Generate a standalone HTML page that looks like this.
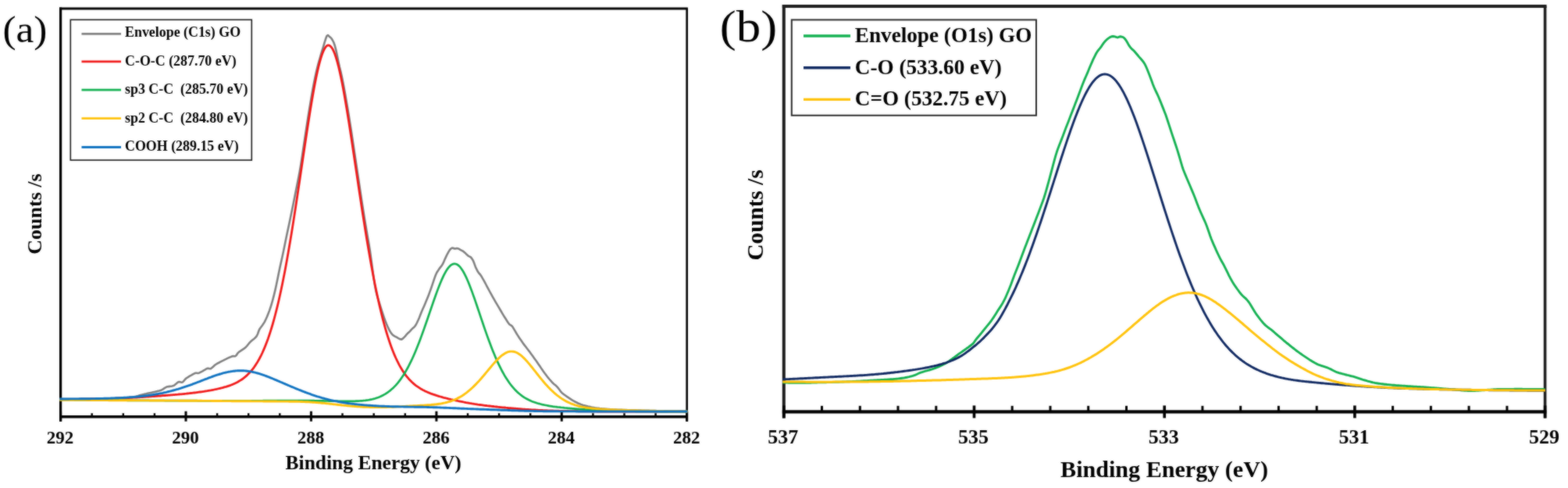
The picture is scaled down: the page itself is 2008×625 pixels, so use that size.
<!DOCTYPE html>
<html lang="en"><head><meta charset="utf-8"><title>XPS spectra of GO: C1s and O1s</title>
<style>
html,body{margin:0;padding:0;background:#fff;}
body{width:2008px;height:625px;overflow:hidden;}
svg{display:block;}
text{font-family:"Liberation Serif","DejaVu Serif",serif;fill:#000;}
.b{font-weight:bold;}
.c{fill:none;stroke-linejoin:round;stroke-linecap:butt;}
</style></head><body>
<svg width="2008" height="625" viewBox="0 0 2008 625">
<defs><filter id="soft" x="0" y="0" width="2008" height="625" filterUnits="userSpaceOnUse" color-interpolation-filters="sRGB"><feGaussianBlur in="SourceGraphic" stdDeviation="0.8" result="b"/><feComposite in="SourceGraphic" in2="b" operator="arithmetic" k1="0" k2="0.5" k3="0.5" k4="0"/></filter></defs>
<g filter="url(#soft)">
<rect x="0" y="0" width="2008" height="625" fill="#fff"/>
<g id="panel-a">
<line x1="77.6" y1="9.5" x2="77.6" y2="539.7" stroke="#000" stroke-width="3.2"/>
<line x1="76.0" y1="11.0" x2="880.9000000000001" y2="11.0" stroke="#000" stroke-width="3"/>
<line x1="879.7" y1="11.0" x2="879.7" y2="539.7" stroke="#000" stroke-width="2.6"/>
<line x1="76.0" y1="533.7" x2="881.0" y2="533.7" stroke="#000" stroke-width="3.6"/>
<line x1="77.6" y1="526.7" x2="77.6" y2="539.7" stroke="#000" stroke-width="3"/>
<line x1="117.7" y1="529.2" x2="117.7" y2="533.7" stroke="#000" stroke-width="2.4"/>
<line x1="157.8" y1="529.2" x2="157.8" y2="533.7" stroke="#000" stroke-width="2.4"/>
<line x1="197.9" y1="529.2" x2="197.9" y2="533.7" stroke="#000" stroke-width="2.4"/>
<line x1="238.0" y1="526.7" x2="238.0" y2="539.7" stroke="#000" stroke-width="3"/>
<line x1="278.1" y1="529.2" x2="278.1" y2="533.7" stroke="#000" stroke-width="2.4"/>
<line x1="318.2" y1="529.2" x2="318.2" y2="533.7" stroke="#000" stroke-width="2.4"/>
<line x1="358.3" y1="529.2" x2="358.3" y2="533.7" stroke="#000" stroke-width="2.4"/>
<line x1="398.4" y1="526.7" x2="398.4" y2="539.7" stroke="#000" stroke-width="3"/>
<line x1="438.5" y1="529.2" x2="438.5" y2="533.7" stroke="#000" stroke-width="2.4"/>
<line x1="478.7" y1="529.2" x2="478.7" y2="533.7" stroke="#000" stroke-width="2.4"/>
<line x1="518.8" y1="529.2" x2="518.8" y2="533.7" stroke="#000" stroke-width="2.4"/>
<line x1="558.9" y1="526.7" x2="558.9" y2="539.7" stroke="#000" stroke-width="3"/>
<line x1="599.0" y1="529.2" x2="599.0" y2="533.7" stroke="#000" stroke-width="2.4"/>
<line x1="639.1" y1="529.2" x2="639.1" y2="533.7" stroke="#000" stroke-width="2.4"/>
<line x1="679.2" y1="529.2" x2="679.2" y2="533.7" stroke="#000" stroke-width="2.4"/>
<line x1="719.3" y1="526.7" x2="719.3" y2="539.7" stroke="#000" stroke-width="3"/>
<line x1="759.4" y1="529.2" x2="759.4" y2="533.7" stroke="#000" stroke-width="2.4"/>
<line x1="799.5" y1="529.2" x2="799.5" y2="533.7" stroke="#000" stroke-width="2.4"/>
<line x1="839.6" y1="529.2" x2="839.6" y2="533.7" stroke="#000" stroke-width="2.4"/>
<line x1="879.7" y1="526.7" x2="879.7" y2="539.7" stroke="#000" stroke-width="3"/>
<text class="b" x="77.1" y="568.4" font-size="23" text-anchor="middle">292</text>
<text class="b" x="237.5" y="568.4" font-size="23" text-anchor="middle">290</text>
<text class="b" x="397.9" y="568.4" font-size="23" text-anchor="middle">288</text>
<text class="b" x="558.4" y="568.4" font-size="23" text-anchor="middle">286</text>
<text class="b" x="718.8" y="568.4" font-size="23" text-anchor="middle">284</text>
<text class="b" x="879.2" y="568.4" font-size="23" text-anchor="middle">282</text>
<text class="b" x="478.2" y="601" font-size="25.5" text-anchor="middle">Binding Energy (eV)</text>
<text class="b" transform="translate(53,274) rotate(-90)" font-size="26" text-anchor="middle">Counts /s</text>
<text x="3.4" y="54" font-size="48.5" textLength="57" lengthAdjust="spacingAndGlyphs">(a)</text>
<rect x="90.3" y="25.3" width="232" height="179.8" fill="#fff" stroke="#1a1a1a" stroke-width="1.6"/>
<line x1="104.5" y1="43.4" x2="155" y2="43.4" stroke="#7f7f7f" stroke-width="2.8"/>
<text class="b" x="160" y="47.3" font-size="17.9" xml:space="preserve">Envelope (C1s) GO</text>
<line x1="104.5" y1="78.8" x2="155" y2="78.8" stroke="#f01818" stroke-width="2.8"/>
<text class="b" x="160" y="83.7" font-size="17.9" xml:space="preserve">C-O-C (287.70 eV)</text>
<line x1="104.5" y1="115.2" x2="155" y2="115.2" stroke="#12b050" stroke-width="2.8"/>
<text class="b" x="160" y="120.1" font-size="17.9" xml:space="preserve">sp3 C-C  (285.70 eV)</text>
<line x1="104.5" y1="151.7" x2="155" y2="151.7" stroke="#ffc20a" stroke-width="2.8"/>
<text class="b" x="160" y="156.5" font-size="17.9" xml:space="preserve">sp2 C-C  (284.80 eV)</text>
<line x1="104.5" y1="188.5" x2="155" y2="188.5" stroke="#0f72c0" stroke-width="2.8"/>
<text class="b" x="160" y="192.9" font-size="17.9" xml:space="preserve">COOH (289.15 eV)</text>
<path class="c" d="M76.4,511.0 L77.9,511.0 L79.4,511.0 L80.9,511.0 L82.4,511.0 L83.9,511.0 L85.4,511.0 L86.9,511.0 L88.4,511.0 L89.9,511.0 L91.4,511.0 L92.9,511.0 L94.4,511.0 L95.9,511.0 L97.4,511.0 L98.9,511.0 L100.4,511.0 L101.9,511.0 L103.4,511.0 L104.9,510.9 L106.4,510.9 L107.9,510.9 L109.4,510.9 L110.9,510.9 L112.4,510.9 L113.9,510.9 L115.4,510.9 L116.9,510.8 L118.4,510.8 L119.9,510.8 L121.4,510.8 L122.9,510.8 L124.4,510.7 L125.9,510.7 L127.4,510.7 L128.9,510.7 L130.4,510.6 L131.9,510.6 L133.4,510.6 L134.9,510.5 L136.4,510.5 L137.9,510.5 L139.4,510.4 L140.9,510.4 L142.4,510.3 L143.9,510.3 L145.4,510.2 L146.9,510.1 L148.4,510.1 L149.9,510.0 L151.4,509.9 L152.9,509.9 L154.4,509.8 L155.9,509.7 L157.4,509.6 L158.9,509.5 L160.4,509.4 L161.9,509.3 L163.4,509.2 L164.9,509.1 L166.4,508.9 L167.9,508.8 L169.4,508.6 L170.9,508.4 L172.4,508.1 L173.9,507.8 L175.4,507.4 L176.9,507.0 L178.4,506.5 L179.9,506.1 L181.4,505.7 L182.9,505.3 L184.4,504.9 L185.9,504.5 L187.4,504.2 L188.9,503.8 L190.4,503.5 L191.9,503.2 L193.4,502.9 L194.9,502.6 L196.4,502.2 L197.9,501.9 L199.4,501.6 L200.9,501.2 L202.4,500.8 L203.9,500.5 L205.4,500.1 L206.9,499.5 L208.4,498.6 L209.9,497.6 L211.4,496.6 L212.9,495.8 L214.4,495.3 L215.9,495.1 L217.4,494.9 L218.9,494.8 L220.4,494.5 L221.9,494.1 L223.4,493.3 L224.9,492.1 L226.4,490.7 L227.9,489.5 L229.4,489.0 L230.9,489.3 L232.4,489.7 L233.9,489.4 L235.4,487.9 L236.9,486.0 L238.4,484.5 L239.9,483.6 L241.4,482.7 L242.9,481.7 L244.4,480.9 L245.9,480.0 L247.4,479.2 L248.9,478.4 L250.4,477.7 L251.9,477.8 L253.4,478.0 L254.9,477.7 L256.4,476.9 L257.9,476.1 L259.4,475.3 L260.9,474.4 L262.4,473.6 L263.9,472.7 L265.4,471.9 L266.9,471.8 L268.4,472.2 L269.9,472.1 L271.4,471.0 L272.9,469.7 L274.4,468.3 L275.9,467.0 L277.4,466.1 L278.9,465.2 L280.4,464.5 L281.9,463.7 L283.4,462.9 L284.9,462.1 L286.4,461.4 L287.9,460.6 L289.4,459.9 L290.9,459.1 L292.4,458.4 L293.9,457.7 L295.4,457.1 L296.9,456.5 L298.4,456.0 L299.9,456.2 L301.4,456.1 L302.9,454.7 L304.4,452.3 L305.9,450.8 L307.4,449.9 L308.9,448.9 L310.4,447.9 L311.9,446.9 L313.4,445.9 L314.9,444.5 L316.4,442.8 L317.9,441.0 L319.4,439.2 L320.9,437.6 L322.4,436.3 L323.9,435.1 L325.4,433.9 L326.9,432.5 L328.4,430.9 L329.9,428.0 L331.4,423.7 L332.9,420.7 L334.4,418.7 L335.9,416.7 L337.4,414.6 L338.9,412.1 L340.4,409.0 L341.9,405.7 L343.4,402.0 L344.9,398.1 L346.4,393.8 L347.9,389.0 L349.4,383.6 L350.9,377.8 L352.4,371.6 L353.9,364.8 L355.4,357.4 L356.9,349.9 L358.4,342.7 L359.9,336.0 L361.4,329.2 L362.9,322.2 L364.4,314.9 L365.9,307.5 L367.4,300.3 L368.9,293.3 L370.4,286.2 L371.9,279.0 L373.4,271.7 L374.9,264.4 L376.4,257.1 L377.9,249.5 L379.4,242.0 L380.9,234.6 L382.4,227.0 L383.9,219.0 L385.4,210.2 L386.9,200.4 L388.4,190.2 L389.9,180.2 L391.4,170.2 L392.9,160.4 L394.4,150.8 L395.9,141.5 L397.4,132.4 L398.9,123.5 L400.4,115.1 L401.9,107.1 L403.4,99.5 L404.9,92.5 L406.4,86.3 L407.9,80.7 L409.4,75.4 L410.9,70.2 L412.4,65.2 L413.9,60.3 L415.4,55.1 L416.9,50.3 L418.4,46.3 L419.9,45.0 L421.4,46.4 L422.9,47.7 L424.4,49.2 L425.9,51.5 L427.4,54.5 L428.9,58.7 L430.4,64.6 L431.9,71.7 L433.4,79.2 L434.9,86.0 L436.4,92.1 L437.9,98.9 L439.4,106.3 L440.9,114.2 L442.4,122.4 L443.9,131.1 L445.4,140.0 L446.9,149.2 L448.4,158.7 L449.9,168.3 L451.4,178.1 L452.9,188.1 L454.4,198.1 L455.9,208.1 L457.4,218.2 L458.9,228.3 L460.4,238.3 L461.9,248.3 L463.4,258.2 L464.9,267.8 L466.4,277.2 L467.9,286.3 L469.4,295.2 L470.9,303.9 L472.4,312.4 L473.9,321.8 L475.4,332.6 L476.9,343.9 L478.4,354.8 L479.9,364.5 L481.4,372.5 L482.9,378.4 L484.4,383.6 L485.9,388.5 L487.4,393.1 L488.9,397.8 L490.4,402.4 L491.9,406.8 L493.4,411.0 L494.9,414.8 L496.4,418.2 L497.9,421.4 L499.4,424.3 L500.9,426.6 L502.4,428.4 L503.9,429.7 L505.4,430.6 L506.9,431.4 L508.4,432.2 L509.9,433.1 L511.4,433.9 L512.9,434.4 L514.4,434.6 L515.9,433.6 L517.4,432.1 L518.9,430.6 L520.4,428.7 L521.9,427.1 L523.4,425.8 L524.9,424.4 L526.4,422.7 L527.9,421.0 L529.4,419.8 L530.9,418.4 L532.4,416.3 L533.9,413.5 L535.4,410.3 L536.9,406.9 L538.4,403.0 L539.9,399.2 L541.4,395.8 L542.9,392.4 L544.4,388.9 L545.9,385.3 L547.4,381.7 L548.9,377.9 L550.4,373.9 L551.9,369.7 L553.4,365.3 L554.9,360.8 L556.4,356.4 L557.9,352.3 L559.4,349.0 L560.9,346.7 L562.4,344.4 L563.9,342.4 L565.4,340.6 L566.9,338.3 L568.4,335.1 L569.9,331.6 L571.4,328.4 L572.9,325.3 L574.4,322.6 L575.9,320.1 L577.4,318.5 L578.9,317.6 L580.4,317.8 L581.9,318.5 L583.4,318.4 L584.9,318.1 L586.4,318.3 L587.9,318.9 L589.4,319.8 L590.9,320.6 L592.4,321.4 L593.9,322.4 L595.4,323.7 L596.9,325.2 L598.4,326.6 L599.9,327.9 L601.4,328.6 L602.9,329.4 L604.4,331.4 L605.9,333.8 L607.4,337.6 L608.9,341.8 L610.4,344.8 L611.9,347.8 L613.4,350.0 L614.9,351.5 L616.4,353.7 L617.9,356.3 L619.4,358.9 L620.9,361.7 L622.4,364.5 L623.9,367.4 L625.4,370.2 L626.9,373.0 L628.4,375.7 L629.9,378.4 L631.4,381.1 L632.9,383.7 L634.4,386.3 L635.9,388.8 L637.4,391.3 L638.9,393.9 L640.4,396.5 L641.9,399.0 L643.4,401.6 L644.9,404.1 L646.4,406.5 L647.9,408.8 L649.4,411.2 L650.9,413.5 L652.4,415.5 L653.9,416.4 L655.4,417.3 L656.9,419.3 L658.4,421.8 L659.9,424.4 L661.4,427.0 L662.9,429.4 L664.4,431.7 L665.9,433.9 L667.4,436.1 L668.9,438.3 L670.4,440.4 L671.9,442.4 L673.4,444.3 L674.9,446.3 L676.4,448.2 L677.9,450.1 L679.4,452.2 L680.9,454.3 L682.4,456.3 L683.9,458.4 L685.4,460.5 L686.9,462.5 L688.4,464.7 L689.9,466.9 L691.4,469.1 L692.9,471.4 L694.4,473.6 L695.9,475.7 L697.4,477.8 L698.9,479.8 L700.4,481.8 L701.9,483.7 L703.4,485.5 L704.9,487.2 L706.4,488.9 L707.9,490.5 L709.4,491.9 L710.9,493.1 L712.4,494.3 L713.9,495.9 L715.4,497.8 L716.9,499.7 L718.4,501.9 L719.9,503.4 L721.4,504.6 L722.9,505.7 L724.4,506.8 L725.9,507.9 L727.4,508.9 L728.9,509.9 L730.4,510.9 L731.9,511.9 L733.4,512.8 L734.9,513.7 L736.4,514.5 L737.9,515.2 L739.4,516.0 L740.9,516.7 L742.4,517.3 L743.9,517.9 L745.4,518.4 L746.9,518.9 L748.4,519.3 L749.9,519.7 L751.4,520.1 L752.9,520.5 L754.4,520.8 L755.9,521.1 L757.4,521.5 L758.9,521.7 L760.4,522.0 L761.9,522.3 L763.4,522.5 L764.9,522.7 L766.4,522.9 L767.9,523.1 L769.4,523.2 L770.9,523.4 L772.4,523.5 L773.9,523.6 L775.4,523.8 L776.9,523.9 L778.4,524.0 L779.9,524.1 L781.4,524.2 L782.9,524.3 L784.4,524.4 L785.9,524.5 L787.4,524.5 L788.9,524.6 L790.4,524.7 L791.9,524.8 L793.4,524.8 L794.9,524.9 L796.4,524.9 L797.9,525.0 L799.4,525.0 L800.9,525.1 L802.4,525.1 L803.9,525.2 L805.4,525.2 L806.9,525.2 L808.4,525.3 L809.9,525.3 L811.4,525.4 L812.9,525.4 L814.4,525.4 L815.9,525.5 L817.4,525.5 L818.9,525.6 L820.4,525.6 L821.9,525.7 L823.4,525.7 L824.9,525.7 L826.4,525.8 L827.9,525.8 L829.4,525.9 L830.9,525.9 L832.4,526.0 L833.9,526.0 L835.4,526.0 L836.9,526.1 L838.4,526.1 L839.9,526.1 L841.4,526.2 L842.9,526.2 L844.4,526.2 L845.9,526.3 L847.4,526.3 L848.9,526.3 L850.4,526.4 L851.9,526.4 L853.4,526.4 L854.9,526.5 L856.4,526.5 L857.9,526.5 L859.4,526.5 L860.9,526.6 L862.4,526.6 L863.9,526.6 L865.4,526.7 L866.9,526.7 L868.4,526.7 L869.9,526.8 L871.4,526.8 L872.9,526.8 L874.4,526.9 L875.9,526.9 L877.4,526.9 L878.9,527.0 L880.4,527.0" stroke="#7f7f7f" stroke-width="2.6"/>
<path class="c" d="M76.4,511.5 L77.9,511.5 L79.4,511.5 L80.9,511.4 L82.4,511.4 L83.9,511.4 L85.4,511.4 L86.9,511.4 L88.4,511.4 L89.9,511.4 L91.4,511.4 L92.9,511.3 L94.4,511.3 L95.9,511.3 L97.4,511.3 L98.9,511.3 L100.4,511.3 L101.9,511.3 L103.4,511.2 L104.9,511.2 L106.4,511.2 L107.9,511.2 L109.4,511.2 L110.9,511.1 L112.4,511.1 L113.9,511.1 L115.4,511.1 L116.9,511.0 L118.4,511.0 L119.9,511.0 L121.4,511.0 L122.9,510.9 L124.4,510.9 L125.9,510.9 L127.4,510.8 L128.9,510.8 L130.4,510.8 L131.9,510.7 L133.4,510.7 L134.9,510.6 L136.4,510.6 L137.9,510.5 L139.4,510.5 L140.9,510.5 L142.4,510.4 L143.9,510.4 L145.4,510.3 L146.9,510.3 L148.4,510.2 L149.9,510.1 L151.4,510.1 L152.9,510.0 L154.4,510.0 L155.9,509.9 L157.4,509.8 L158.9,509.8 L160.4,509.7 L161.9,509.6 L163.4,509.6 L164.9,509.5 L166.4,509.4 L167.9,509.4 L169.4,509.3 L170.9,509.2 L172.4,509.1 L173.9,509.0 L175.4,509.0 L176.9,508.9 L178.4,508.8 L179.9,508.7 L181.4,508.6 L182.9,508.5 L184.4,508.4 L185.9,508.3 L187.4,508.2 L188.9,508.1 L190.4,508.0 L191.9,507.9 L193.4,507.8 L194.9,507.7 L196.4,507.6 L197.9,507.5 L199.4,507.4 L200.9,507.3 L202.4,507.2 L203.9,507.1 L205.4,507.0 L206.9,506.9 L208.4,506.7 L209.9,506.6 L211.4,506.5 L212.9,506.4 L214.4,506.3 L215.9,506.2 L217.4,506.1 L218.9,505.9 L220.4,505.8 L221.9,505.7 L223.4,505.6 L224.9,505.4 L226.4,505.3 L227.9,505.2 L229.4,505.0 L230.9,504.9 L232.4,504.8 L233.9,504.6 L235.4,504.5 L236.9,504.3 L238.4,504.2 L239.9,504.0 L241.4,503.9 L242.9,503.7 L244.4,503.5 L245.9,503.4 L247.4,503.2 L248.9,503.0 L250.4,502.8 L251.9,502.6 L253.4,502.4 L254.9,502.2 L256.4,502.0 L257.9,501.8 L259.4,501.6 L260.9,501.4 L262.4,501.1 L263.9,500.9 L265.4,500.7 L266.9,500.4 L268.4,500.1 L269.9,499.9 L271.4,499.6 L272.9,499.3 L274.4,499.0 L275.9,498.7 L277.4,498.4 L278.9,498.0 L280.4,497.7 L281.9,497.3 L283.4,496.9 L284.9,496.6 L286.4,496.1 L287.9,495.7 L289.4,495.3 L290.9,494.8 L292.4,494.3 L293.9,493.8 L295.4,493.3 L296.9,492.7 L298.4,492.1 L299.9,491.4 L301.4,490.7 L302.9,490.0 L304.4,489.2 L305.9,488.3 L307.4,487.4 L308.9,486.5 L310.4,485.5 L311.9,484.4 L313.4,483.2 L314.9,481.9 L316.4,480.6 L317.9,479.1 L319.4,477.6 L320.9,475.9 L322.4,474.2 L323.9,472.3 L325.4,470.3 L326.9,468.1 L328.4,465.8 L329.9,463.4 L331.4,460.8 L332.9,458.0 L334.4,455.1 L335.9,452.0 L337.4,448.6 L338.9,445.1 L340.4,441.4 L341.9,437.5 L343.4,433.4 L344.9,429.0 L346.4,424.4 L347.9,419.5 L349.4,414.5 L350.9,409.1 L352.4,403.5 L353.9,397.7 L355.4,391.6 L356.9,385.2 L358.4,378.5 L359.9,371.6 L361.4,364.5 L362.9,357.0 L364.4,349.4 L365.9,341.4 L367.4,333.2 L368.9,324.8 L370.4,316.1 L371.9,307.3 L373.4,298.2 L374.9,288.9 L376.4,279.4 L377.9,269.8 L379.4,260.0 L380.9,250.1 L382.4,240.1 L383.9,230.1 L385.4,219.9 L386.9,209.8 L388.4,199.6 L389.9,189.5 L391.4,179.5 L392.9,169.6 L394.4,159.8 L395.9,150.2 L397.4,140.8 L398.9,131.8 L400.4,123.0 L401.9,114.6 L403.4,106.6 L404.9,99.0 L406.4,92.0 L407.9,85.5 L409.4,79.6 L410.9,74.4 L412.4,69.8 L413.9,65.9 L415.4,62.8 L416.9,60.4 L418.4,58.8 L419.9,58.0 L421.4,58.1 L422.9,58.9 L424.4,60.4 L425.9,62.7 L427.4,65.8 L428.9,69.6 L430.4,74.0 L431.9,79.1 L433.4,84.8 L434.9,91.1 L436.4,98.0 L437.9,105.3 L439.4,113.1 L440.9,121.3 L442.4,129.9 L443.9,138.8 L445.4,148.0 L446.9,157.4 L448.4,167.0 L449.9,176.8 L451.4,186.7 L452.9,196.7 L454.4,206.8 L455.9,216.9 L457.4,226.9 L458.9,237.0 L460.4,247.0 L461.9,256.9 L463.4,266.7 L464.9,276.4 L466.4,285.9 L467.9,295.3 L469.4,304.4 L470.9,313.5 L472.4,322.3 L473.9,330.8 L475.4,339.2 L476.9,347.3 L478.4,355.2 L479.9,362.9 L481.4,370.3 L482.9,377.4 L484.4,384.3 L485.9,390.9 L487.4,397.3 L488.9,403.5 L490.4,409.3 L491.9,415.0 L493.4,420.3 L494.9,425.5 L496.4,430.4 L497.9,435.0 L499.4,439.5 L500.9,443.7 L502.4,447.7 L503.9,451.5 L505.4,455.1 L506.9,458.5 L508.4,461.7 L509.9,464.7 L511.4,467.6 L512.9,470.3 L514.4,472.8 L515.9,475.2 L517.4,477.5 L518.9,479.6 L520.4,481.6 L521.9,483.4 L523.4,485.2 L524.9,486.8 L526.4,488.3 L527.9,489.8 L529.4,491.1 L530.9,492.4 L532.4,493.6 L533.9,494.7 L535.4,495.7 L536.9,496.7 L538.4,497.7 L539.9,498.5 L541.4,499.4 L542.9,500.1 L544.4,500.9 L545.9,501.6 L547.4,502.3 L548.9,502.9 L550.4,503.5 L551.9,504.1 L553.4,504.6 L554.9,505.2 L556.4,505.7 L557.9,506.2 L559.4,506.7 L560.9,507.1 L562.4,507.6 L563.9,508.0 L565.4,508.4 L566.9,508.9 L568.4,509.3 L569.9,509.6 L571.4,510.0 L572.9,510.4 L574.4,510.8 L575.9,511.1 L577.4,511.5 L578.9,511.8 L580.4,512.2 L581.9,512.5 L583.4,512.8 L584.9,513.2 L586.4,513.5 L587.9,513.8 L589.4,514.1 L590.9,514.4 L592.4,514.7 L593.9,515.0 L595.4,515.3 L596.9,515.6 L598.4,515.8 L599.9,516.1 L601.4,516.4 L602.9,516.6 L604.4,516.9 L605.9,517.1 L607.4,517.4 L608.9,517.6 L610.4,517.8 L611.9,518.1 L613.4,518.3 L614.9,518.5 L616.4,518.7 L617.9,518.9 L619.4,519.1 L620.9,519.3 L622.4,519.5 L623.9,519.7 L625.4,519.8 L626.9,520.0 L628.4,520.2 L629.9,520.4 L631.4,520.5 L632.9,520.7 L634.4,520.8 L635.9,521.0 L637.4,521.2 L638.9,521.3 L640.4,521.5 L641.9,521.6 L643.4,521.8 L644.9,521.9 L646.4,522.0 L647.9,522.2 L649.4,522.3 L650.9,522.5 L652.4,522.6 L653.9,522.7 L655.4,522.9 L656.9,523.0 L658.4,523.1 L659.9,523.2 L661.4,523.4 L662.9,523.5 L664.4,523.6 L665.9,523.7 L667.4,523.8 L668.9,524.0 L670.4,524.1 L671.9,524.2 L673.4,524.3 L674.9,524.4 L676.4,524.5 L677.9,524.6 L679.4,524.7 L680.9,524.8 L682.4,524.9 L683.9,525.0 L685.4,525.0 L686.9,525.1 L688.4,525.2 L689.9,525.3 L691.4,525.3 L692.9,525.4 L694.4,525.5 L695.9,525.6 L697.4,525.6 L698.9,525.7 L700.4,525.7 L701.9,525.8 L703.4,525.8 L704.9,525.9 L706.4,526.0 L707.9,526.0 L709.4,526.1 L710.9,526.1 L712.4,526.1 L713.9,526.2 L715.4,526.2 L716.9,526.3 L718.4,526.3 L719.9,526.3 L721.4,526.4 L722.9,526.4 L724.4,526.5 L725.9,526.5 L727.4,526.5 L728.9,526.6 L730.4,526.6 L731.9,526.6 L733.4,526.6 L734.9,526.7 L736.4,526.7 L737.9,526.7 L739.4,526.7 L740.9,526.8 L742.4,526.8 L743.9,526.8 L745.4,526.8 L746.9,526.8 L748.4,526.8 L749.9,526.9 L751.4,526.9 L752.9,526.9 L754.4,526.9 L755.9,526.9 L757.4,526.9 L758.9,526.9 L760.4,526.9 L761.9,526.9 L763.4,526.9 L764.9,527.0 L766.4,527.0 L767.9,527.0 L769.4,527.0 L770.9,527.0 L772.4,527.0 L773.9,527.0 L775.4,527.0 L776.9,527.0 L778.4,527.0 L779.9,527.0 L781.4,527.0 L782.9,527.0 L784.4,527.0 L785.9,527.0 L787.4,527.0 L788.9,527.0 L790.4,527.0 L791.9,527.0 L793.4,527.0 L794.9,527.1 L796.4,527.1 L797.9,527.1 L799.4,527.1 L800.9,527.1 L802.4,527.1 L803.9,527.1 L805.4,527.1 L806.9,527.1 L808.4,527.1 L809.9,527.1 L811.4,527.1 L812.9,527.1 L814.4,527.1 L815.9,527.1 L817.4,527.1 L818.9,527.1 L820.4,527.1 L821.9,527.1 L823.4,527.1 L824.9,527.1 L826.4,527.1 L827.9,527.1 L829.4,527.1 L830.9,527.1 L832.4,527.1 L833.9,527.1 L835.4,527.1 L836.9,527.1 L838.4,527.1 L839.9,527.1 L841.4,527.1 L842.9,527.1 L844.4,527.1 L845.9,527.1 L847.4,527.1 L848.9,527.1 L850.4,527.1 L851.9,527.1 L853.4,527.1 L854.9,527.1 L856.4,527.1 L857.9,527.1 L859.4,527.1 L860.9,527.1 L862.4,527.1 L863.9,527.0 L865.4,527.0 L866.9,527.0 L868.4,527.0 L869.9,527.0 L871.4,527.0 L872.9,527.0 L874.4,527.0 L875.9,527.1 L877.4,527.1 L878.9,527.1 L880.4,527.1" stroke="#f01818" stroke-width="2.8"/>
<path class="c" d="M76.4,511.9 L77.9,511.9 L79.4,511.9 L80.9,511.9 L82.4,511.9 L83.9,511.9 L85.4,511.9 L86.9,512.0 L88.4,512.0 L89.9,512.0 L91.4,512.0 L92.9,512.0 L94.4,512.0 L95.9,512.1 L97.4,512.1 L98.9,512.1 L100.4,512.1 L101.9,512.1 L103.4,512.1 L104.9,512.2 L106.4,512.2 L107.9,512.2 L109.4,512.2 L110.9,512.2 L112.4,512.3 L113.9,512.3 L115.4,512.3 L116.9,512.3 L118.4,512.3 L119.9,512.3 L121.4,512.4 L122.9,512.4 L124.4,512.4 L125.9,512.4 L127.4,512.4 L128.9,512.4 L130.4,512.5 L131.9,512.5 L133.4,512.5 L134.9,512.5 L136.4,512.5 L137.9,512.5 L139.4,512.5 L140.9,512.6 L142.4,512.6 L143.9,512.6 L145.4,512.6 L146.9,512.6 L148.4,512.6 L149.9,512.6 L151.4,512.7 L152.9,512.7 L154.4,512.7 L155.9,512.7 L157.4,512.7 L158.9,512.7 L160.4,512.7 L161.9,512.7 L163.4,512.8 L164.9,512.8 L166.4,512.8 L167.9,512.8 L169.4,512.8 L170.9,512.8 L172.4,512.8 L173.9,512.8 L175.4,512.8 L176.9,512.9 L178.4,512.9 L179.9,512.9 L181.4,512.9 L182.9,512.9 L184.4,512.9 L185.9,512.9 L187.4,512.9 L188.9,512.9 L190.4,512.9 L191.9,513.0 L193.4,513.0 L194.9,513.0 L196.4,513.0 L197.9,513.0 L199.4,513.0 L200.9,513.0 L202.4,513.0 L203.9,513.0 L205.4,513.0 L206.9,513.0 L208.4,513.0 L209.9,513.0 L211.4,513.1 L212.9,513.1 L214.4,513.1 L215.9,513.1 L217.4,513.1 L218.9,513.1 L220.4,513.1 L221.9,513.1 L223.4,513.1 L224.9,513.1 L226.4,513.1 L227.9,513.1 L229.4,513.1 L230.9,513.1 L232.4,513.2 L233.9,513.2 L235.4,513.2 L236.9,513.2 L238.4,513.2 L239.9,513.2 L241.4,513.2 L242.9,513.2 L244.4,513.2 L245.9,513.2 L247.4,513.2 L248.9,513.2 L250.4,513.2 L251.9,513.2 L253.4,513.3 L254.9,513.3 L256.4,513.3 L257.9,513.3 L259.4,513.3 L260.9,513.3 L262.4,513.3 L263.9,513.3 L265.4,513.3 L266.9,513.3 L268.4,513.3 L269.9,513.3 L271.4,513.3 L272.9,513.3 L274.4,513.3 L275.9,513.3 L277.4,513.3 L278.9,513.3 L280.4,513.4 L281.9,513.4 L283.4,513.4 L284.9,513.4 L286.4,513.4 L287.9,513.4 L289.4,513.4 L290.9,513.4 L292.4,513.4 L293.9,513.4 L295.4,513.4 L296.9,513.4 L298.4,513.4 L299.9,513.4 L301.4,513.4 L302.9,513.4 L304.4,513.4 L305.9,513.4 L307.4,513.4 L308.9,513.4 L310.4,513.4 L311.9,513.4 L313.4,513.4 L314.9,513.4 L316.4,513.4 L317.9,513.3 L319.4,513.3 L320.9,513.3 L322.4,513.3 L323.9,513.3 L325.4,513.3 L326.9,513.3 L328.4,513.3 L329.9,513.3 L331.4,513.3 L332.9,513.3 L334.4,513.3 L335.9,513.3 L337.4,513.2 L338.9,513.2 L340.4,513.2 L341.9,513.2 L343.4,513.2 L344.9,513.2 L346.4,513.2 L347.9,513.2 L349.4,513.2 L350.9,513.2 L352.4,513.1 L353.9,513.1 L355.4,513.1 L356.9,513.1 L358.4,513.1 L359.9,513.1 L361.4,513.1 L362.9,513.1 L364.4,513.1 L365.9,513.1 L367.4,513.1 L368.9,513.1 L370.4,513.0 L371.9,513.0 L373.4,513.0 L374.9,513.0 L376.4,513.0 L377.9,513.0 L379.4,513.0 L380.9,513.0 L382.4,513.0 L383.9,513.0 L385.4,513.1 L386.9,513.1 L388.4,513.1 L389.9,513.1 L391.4,513.1 L392.9,513.1 L394.4,513.1 L395.9,513.1 L397.4,513.2 L398.9,513.2 L400.4,513.2 L401.9,513.2 L403.4,513.3 L404.9,513.3 L406.4,513.3 L407.9,513.3 L409.4,513.4 L410.9,513.4 L412.4,513.4 L413.9,513.4 L415.4,513.5 L416.9,513.5 L418.4,513.5 L419.9,513.5 L421.4,513.6 L422.9,513.6 L424.4,513.6 L425.9,513.6 L427.4,513.7 L428.9,513.7 L430.4,513.7 L431.9,513.7 L433.4,513.8 L434.9,513.8 L436.4,513.8 L437.9,513.8 L439.4,513.8 L440.9,513.8 L442.4,513.9 L443.9,513.9 L445.4,513.9 L446.9,513.9 L448.4,513.9 L449.9,513.8 L451.4,513.8 L452.9,513.8 L454.4,513.8 L455.9,513.7 L457.4,513.7 L458.9,513.6 L460.4,513.5 L461.9,513.4 L463.4,513.3 L464.9,513.2 L466.4,513.0 L467.9,512.9 L469.4,512.7 L470.9,512.5 L472.4,512.2 L473.9,511.9 L475.4,511.6 L476.9,511.3 L478.4,510.9 L479.9,510.5 L481.4,510.0 L482.9,509.5 L484.4,509.0 L485.9,508.4 L487.4,507.7 L488.9,507.0 L490.4,506.3 L491.9,505.4 L493.4,504.6 L494.9,503.6 L496.4,502.6 L497.9,501.5 L499.4,500.4 L500.9,499.1 L502.4,497.8 L503.9,496.4 L505.4,494.9 L506.9,493.3 L508.4,491.6 L509.9,489.8 L511.4,487.9 L512.9,485.9 L514.4,483.8 L515.9,481.6 L517.4,479.2 L518.9,476.8 L520.4,474.2 L521.9,471.5 L523.4,468.7 L524.9,465.7 L526.4,462.6 L527.9,459.5 L529.4,456.2 L530.9,452.7 L532.4,449.2 L533.9,445.5 L535.4,441.8 L536.9,437.9 L538.4,434.0 L539.9,429.9 L541.4,425.8 L542.9,421.6 L544.4,417.3 L545.9,413.0 L547.4,408.7 L548.9,404.3 L550.4,399.9 L551.9,395.5 L553.4,391.1 L554.9,386.8 L556.4,382.5 L557.9,378.2 L559.4,374.1 L560.9,370.1 L562.4,366.2 L563.9,362.5 L565.4,358.9 L566.9,355.6 L568.4,352.4 L569.9,349.6 L571.4,346.9 L572.9,344.6 L574.4,342.6 L575.9,341.0 L577.4,339.6 L578.9,338.7 L580.4,338.1 L581.9,337.8 L583.4,338.0 L584.9,338.5 L586.4,339.4 L587.9,340.6 L589.4,342.2 L590.9,344.2 L592.4,346.4 L593.9,349.0 L595.4,351.8 L596.9,354.9 L598.4,358.2 L599.9,361.7 L601.4,365.5 L602.9,369.4 L604.4,373.4 L605.9,377.6 L607.4,381.8 L608.9,386.1 L610.4,390.5 L611.9,395.0 L613.4,399.4 L614.9,403.9 L616.4,408.4 L617.9,412.8 L619.4,417.2 L620.9,421.6 L622.4,425.9 L623.9,430.1 L625.4,434.2 L626.9,438.3 L628.4,442.3 L629.9,446.2 L631.4,449.9 L632.9,453.6 L634.4,457.2 L635.9,460.6 L637.4,463.9 L638.9,467.1 L640.4,470.2 L641.9,473.2 L643.4,476.0 L644.9,478.7 L646.4,481.3 L647.9,483.8 L649.4,486.1 L650.9,488.3 L652.4,490.5 L653.9,492.5 L655.4,494.4 L656.9,496.2 L658.4,497.9 L659.9,499.5 L661.4,501.0 L662.9,502.4 L664.4,503.8 L665.9,505.0 L667.4,506.2 L668.9,507.3 L670.4,508.3 L671.9,509.3 L673.4,510.2 L674.9,511.0 L676.4,511.8 L677.9,512.5 L679.4,513.2 L680.9,513.9 L682.4,514.5 L683.9,515.0 L685.4,515.5 L686.9,516.0 L688.4,516.5 L689.9,516.9 L691.4,517.3 L692.9,517.7 L694.4,518.1 L695.9,518.4 L697.4,518.7 L698.9,519.0 L700.4,519.3 L701.9,519.6 L703.4,519.9 L704.9,520.1 L706.4,520.3 L707.9,520.6 L709.4,520.8 L710.9,521.0 L712.4,521.2 L713.9,521.4 L715.4,521.5 L716.9,521.7 L718.4,521.9 L719.9,522.0 L721.4,522.2 L722.9,522.4 L724.4,522.5 L725.9,522.6 L727.4,522.8 L728.9,522.9 L730.4,523.1 L731.9,523.2 L733.4,523.3 L734.9,523.4 L736.4,523.6 L737.9,523.7 L739.4,523.8 L740.9,523.9 L742.4,524.0 L743.9,524.1 L745.4,524.2 L746.9,524.3 L748.4,524.4 L749.9,524.5 L751.4,524.6 L752.9,524.7 L754.4,524.8 L755.9,524.9 L757.4,525.0 L758.9,525.0 L760.4,525.1 L761.9,525.2 L763.4,525.3 L764.9,525.3 L766.4,525.4 L767.9,525.5 L769.4,525.5 L770.9,525.6 L772.4,525.6 L773.9,525.7 L775.4,525.8 L776.9,525.8 L778.4,525.9 L779.9,525.9 L781.4,526.0 L782.9,526.0 L784.4,526.1 L785.9,526.1 L787.4,526.2 L788.9,526.2 L790.4,526.2 L791.9,526.3 L793.4,526.3 L794.9,526.4 L796.4,526.4 L797.9,526.4 L799.4,526.5 L800.9,526.5 L802.4,526.5 L803.9,526.6 L805.4,526.6 L806.9,526.6 L808.4,526.7 L809.9,526.7 L811.4,526.7 L812.9,526.7 L814.4,526.8 L815.9,526.8 L817.4,526.8 L818.9,526.8 L820.4,526.8 L821.9,526.9 L823.4,526.9 L824.9,526.9 L826.4,526.9 L827.9,526.9 L829.4,527.0 L830.9,527.0 L832.4,527.0 L833.9,527.0 L835.4,527.0 L836.9,527.0 L838.4,527.0 L839.9,527.0 L841.4,527.0 L842.9,527.0 L844.4,527.0 L845.9,527.1 L847.4,527.1 L848.9,527.1 L850.4,527.1 L851.9,527.1 L853.4,527.1 L854.9,527.1 L856.4,527.1 L857.9,527.1 L859.4,527.1 L860.9,527.1 L862.4,527.1 L863.9,527.1 L865.4,527.1 L866.9,527.1 L868.4,527.1 L869.9,527.1 L871.4,527.1 L872.9,527.1 L874.4,527.1 L875.9,527.1 L877.4,527.1 L878.9,527.1 L880.4,527.1" stroke="#12b050" stroke-width="2.7"/>
<path class="c" d="M76.4,512.2 L77.9,512.2 L79.4,512.3 L80.9,512.3 L82.4,512.3 L83.9,512.3 L85.4,512.3 L86.9,512.3 L88.4,512.3 L89.9,512.3 L91.4,512.3 L92.9,512.3 L94.4,512.3 L95.9,512.4 L97.4,512.4 L98.9,512.4 L100.4,512.4 L101.9,512.4 L103.4,512.4 L104.9,512.4 L106.4,512.4 L107.9,512.4 L109.4,512.4 L110.9,512.5 L112.4,512.5 L113.9,512.5 L115.4,512.5 L116.9,512.5 L118.4,512.5 L119.9,512.5 L121.4,512.5 L122.9,512.5 L124.4,512.6 L125.9,512.6 L127.4,512.6 L128.9,512.6 L130.4,512.6 L131.9,512.6 L133.4,512.6 L134.9,512.6 L136.4,512.6 L137.9,512.6 L139.4,512.7 L140.9,512.7 L142.4,512.7 L143.9,512.7 L145.4,512.7 L146.9,512.7 L148.4,512.7 L149.9,512.7 L151.4,512.7 L152.9,512.7 L154.4,512.8 L155.9,512.8 L157.4,512.8 L158.9,512.8 L160.4,512.8 L161.9,512.8 L163.4,512.8 L164.9,512.8 L166.4,512.8 L167.9,512.8 L169.4,512.8 L170.9,512.8 L172.4,512.9 L173.9,512.9 L175.4,512.9 L176.9,512.9 L178.4,512.9 L179.9,512.9 L181.4,512.9 L182.9,512.9 L184.4,512.9 L185.9,512.9 L187.4,512.9 L188.9,512.9 L190.4,512.9 L191.9,513.0 L193.4,513.0 L194.9,513.0 L196.4,513.0 L197.9,513.0 L199.4,513.0 L200.9,513.0 L202.4,513.0 L203.9,513.0 L205.4,513.0 L206.9,513.0 L208.4,513.0 L209.9,513.0 L211.4,513.1 L212.9,513.1 L214.4,513.1 L215.9,513.1 L217.4,513.1 L218.9,513.1 L220.4,513.1 L221.9,513.1 L223.4,513.1 L224.9,513.1 L226.4,513.1 L227.9,513.1 L229.4,513.2 L230.9,513.2 L232.4,513.2 L233.9,513.2 L235.4,513.2 L236.9,513.2 L238.4,513.2 L239.9,513.2 L241.4,513.2 L242.9,513.2 L244.4,513.3 L245.9,513.3 L247.4,513.3 L248.9,513.3 L250.4,513.3 L251.9,513.3 L253.4,513.3 L254.9,513.3 L256.4,513.3 L257.9,513.3 L259.4,513.4 L260.9,513.4 L262.4,513.4 L263.9,513.4 L265.4,513.4 L266.9,513.4 L268.4,513.4 L269.9,513.4 L271.4,513.5 L272.9,513.5 L274.4,513.5 L275.9,513.5 L277.4,513.5 L278.9,513.5 L280.4,513.5 L281.9,513.5 L283.4,513.5 L284.9,513.6 L286.4,513.6 L287.9,513.6 L289.4,513.6 L290.9,513.6 L292.4,513.6 L293.9,513.6 L295.4,513.6 L296.9,513.7 L298.4,513.7 L299.9,513.7 L301.4,513.7 L302.9,513.7 L304.4,513.7 L305.9,513.7 L307.4,513.7 L308.9,513.8 L310.4,513.8 L311.9,513.8 L313.4,513.8 L314.9,513.8 L316.4,513.8 L317.9,513.8 L319.4,513.8 L320.9,513.8 L322.4,513.9 L323.9,513.9 L325.4,513.9 L326.9,513.9 L328.4,513.9 L329.9,513.9 L331.4,513.9 L332.9,513.9 L334.4,513.9 L335.9,513.9 L337.4,514.0 L338.9,514.0 L340.4,514.0 L341.9,514.0 L343.4,514.0 L344.9,514.0 L346.4,514.0 L347.9,514.0 L349.4,514.0 L350.9,514.0 L352.4,514.0 L353.9,514.0 L355.4,514.1 L356.9,514.1 L358.4,514.1 L359.9,514.1 L361.4,514.1 L362.9,514.1 L364.4,514.1 L365.9,514.1 L367.4,514.1 L368.9,514.1 L370.4,514.2 L371.9,514.2 L373.4,514.2 L374.9,514.2 L376.4,514.2 L377.9,514.3 L379.4,514.3 L380.9,514.3 L382.4,514.4 L383.9,514.4 L385.4,514.5 L386.9,514.5 L388.4,514.6 L389.9,514.6 L391.4,514.7 L392.9,514.8 L394.4,514.8 L395.9,514.9 L397.4,515.0 L398.9,515.1 L400.4,515.2 L401.9,515.3 L403.4,515.4 L404.9,515.5 L406.4,515.6 L407.9,515.8 L409.4,515.9 L410.9,516.0 L412.4,516.2 L413.9,516.3 L415.4,516.4 L416.9,516.6 L418.4,516.8 L419.9,516.9 L421.4,517.1 L422.9,517.3 L424.4,517.4 L425.9,517.6 L427.4,517.8 L428.9,517.9 L430.4,518.1 L431.9,518.3 L433.4,518.5 L434.9,518.6 L436.4,518.8 L437.9,519.0 L439.4,519.1 L440.9,519.3 L442.4,519.4 L443.9,519.6 L445.4,519.7 L446.9,519.9 L448.4,520.0 L449.9,520.1 L451.4,520.3 L452.9,520.4 L454.4,520.5 L455.9,520.6 L457.4,520.7 L458.9,520.8 L460.4,520.9 L461.9,521.0 L463.4,521.1 L464.9,521.2 L466.4,521.2 L467.9,521.3 L469.4,521.3 L470.9,521.4 L472.4,521.4 L473.9,521.5 L475.4,521.5 L476.9,521.5 L478.4,521.6 L479.9,521.6 L481.4,521.6 L482.9,521.6 L484.4,521.6 L485.9,521.6 L487.4,521.6 L488.9,521.6 L490.4,521.5 L491.9,521.5 L493.4,521.5 L494.9,521.5 L496.4,521.4 L497.9,521.4 L499.4,521.3 L500.9,521.3 L502.4,521.2 L503.9,521.2 L505.4,521.1 L506.9,521.0 L508.4,520.9 L509.9,520.9 L511.4,520.8 L512.9,520.7 L514.4,520.6 L515.9,520.5 L517.4,520.5 L518.9,520.4 L520.4,520.3 L521.9,520.2 L523.4,520.1 L524.9,520.0 L526.4,520.0 L527.9,519.9 L529.4,519.8 L530.9,519.7 L532.4,519.6 L533.9,519.6 L535.4,519.5 L536.9,519.4 L538.4,519.3 L539.9,519.2 L541.4,519.2 L542.9,519.1 L544.4,519.0 L545.9,518.9 L547.4,518.8 L548.9,518.7 L550.4,518.6 L551.9,518.5 L553.4,518.3 L554.9,518.2 L556.4,518.0 L557.9,517.9 L559.4,517.7 L560.9,517.5 L562.4,517.3 L563.9,517.1 L565.4,516.8 L566.9,516.5 L568.4,516.2 L569.9,515.9 L571.4,515.5 L572.9,515.2 L574.4,514.7 L575.9,514.3 L577.4,513.8 L578.9,513.2 L580.4,512.7 L581.9,512.1 L583.4,511.4 L584.9,510.7 L586.4,509.9 L587.9,509.1 L589.4,508.3 L590.9,507.4 L592.4,506.5 L593.9,505.5 L595.4,504.4 L596.9,503.3 L598.4,502.2 L599.9,500.9 L601.4,499.7 L602.9,498.4 L604.4,497.0 L605.9,495.6 L607.4,494.1 L608.9,492.6 L610.4,491.1 L611.9,489.5 L613.4,487.9 L614.9,486.2 L616.4,484.5 L617.9,482.7 L619.4,481.0 L620.9,479.2 L622.4,477.4 L623.9,475.6 L625.4,473.8 L626.9,472.0 L628.4,470.2 L629.9,468.4 L631.4,466.6 L632.9,464.9 L634.4,463.3 L635.9,461.6 L637.4,460.1 L638.9,458.6 L640.4,457.2 L641.9,455.9 L643.4,454.7 L644.9,453.7 L646.4,452.7 L647.9,451.9 L649.4,451.2 L650.9,450.7 L652.4,450.3 L653.9,450.1 L655.4,450.1 L656.9,450.2 L658.4,450.5 L659.9,450.9 L661.4,451.5 L662.9,452.3 L664.4,453.2 L665.9,454.2 L667.4,455.4 L668.9,456.7 L670.4,458.1 L671.9,459.6 L673.4,461.2 L674.9,462.8 L676.4,464.6 L677.9,466.3 L679.4,468.2 L680.9,470.0 L682.4,471.9 L683.9,473.8 L685.4,475.7 L686.9,477.6 L688.4,479.5 L689.9,481.4 L691.4,483.3 L692.9,485.1 L694.4,486.9 L695.9,488.7 L697.4,490.5 L698.9,492.2 L700.4,493.8 L701.9,495.5 L703.4,497.0 L704.9,498.6 L706.4,500.0 L707.9,501.4 L709.4,502.8 L710.9,504.1 L712.4,505.4 L713.9,506.6 L715.4,507.7 L716.9,508.8 L718.4,509.9 L719.9,510.9 L721.4,511.8 L722.9,512.7 L724.4,513.6 L725.9,514.4 L727.4,515.1 L728.9,515.8 L730.4,516.5 L731.9,517.1 L733.4,517.7 L734.9,518.2 L736.4,518.8 L737.9,519.2 L739.4,519.7 L740.9,520.1 L742.4,520.5 L743.9,520.8 L745.4,521.1 L746.9,521.4 L748.4,521.7 L749.9,522.0 L751.4,522.2 L752.9,522.4 L754.4,522.6 L755.9,522.8 L757.4,523.0 L758.9,523.2 L760.4,523.3 L761.9,523.4 L763.4,523.6 L764.9,523.7 L766.4,523.8 L767.9,523.9 L769.4,524.0 L770.9,524.1 L772.4,524.2 L773.9,524.3 L775.4,524.3 L776.9,524.4 L778.4,524.5 L779.9,524.6 L781.4,524.6 L782.9,524.7 L784.4,524.8 L785.9,524.8 L787.4,524.9 L788.9,524.9 L790.4,525.0 L791.9,525.1 L793.4,525.1 L794.9,525.2 L796.4,525.2 L797.9,525.3 L799.4,525.3 L800.9,525.4 L802.4,525.4 L803.9,525.5 L805.4,525.5 L806.9,525.6 L808.4,525.6 L809.9,525.7 L811.4,525.7 L812.9,525.7 L814.4,525.8 L815.9,525.8 L817.4,525.9 L818.9,525.9 L820.4,525.9 L821.9,526.0 L823.4,526.0 L824.9,526.0 L826.4,526.1 L827.9,526.1 L829.4,526.1 L830.9,526.2 L832.4,526.2 L833.9,526.2 L835.4,526.3 L836.9,526.3 L838.4,526.3 L839.9,526.4 L841.4,526.4 L842.9,526.4 L844.4,526.4 L845.9,526.5 L847.4,526.5 L848.9,526.5 L850.4,526.6 L851.9,526.6 L853.4,526.6 L854.9,526.6 L856.4,526.7 L857.9,526.7 L859.4,526.7 L860.9,526.7 L862.4,526.7 L863.9,526.8 L865.4,526.8 L866.9,526.8 L868.4,526.8 L869.9,526.9 L871.4,526.9 L872.9,526.9 L874.4,526.9 L875.9,526.9 L877.4,526.9 L878.9,527.0 L880.4,527.0" stroke="#ffc20a" stroke-width="2.9"/>
<path class="c" d="M76.4,511.0 L77.9,511.0 L79.4,511.0 L80.9,511.0 L82.4,511.0 L83.9,511.0 L85.4,511.0 L86.9,511.0 L88.4,511.0 L89.9,510.9 L91.4,510.9 L92.9,510.9 L94.4,510.9 L95.9,510.9 L97.4,510.9 L98.9,510.9 L100.4,510.9 L101.9,510.8 L103.4,510.8 L104.9,510.8 L106.4,510.8 L107.9,510.8 L109.4,510.8 L110.9,510.7 L112.4,510.7 L113.9,510.7 L115.4,510.7 L116.9,510.6 L118.4,510.6 L119.9,510.6 L121.4,510.6 L122.9,510.5 L124.4,510.5 L125.9,510.5 L127.4,510.5 L128.9,510.4 L130.4,510.4 L131.9,510.4 L133.4,510.3 L134.9,510.3 L136.4,510.2 L137.9,510.2 L139.4,510.1 L140.9,510.1 L142.4,510.0 L143.9,510.0 L145.4,509.9 L146.9,509.9 L148.4,509.8 L149.9,509.8 L151.4,509.7 L152.9,509.6 L154.4,509.6 L155.9,509.5 L157.4,509.4 L158.9,509.3 L160.4,509.2 L161.9,509.1 L163.4,509.0 L164.9,508.9 L166.4,508.8 L167.9,508.7 L169.4,508.6 L170.9,508.5 L172.4,508.4 L173.9,508.3 L175.4,508.1 L176.9,508.0 L178.4,507.8 L179.9,507.7 L181.4,507.5 L182.9,507.4 L184.4,507.2 L185.9,507.0 L187.4,506.8 L188.9,506.6 L190.4,506.4 L191.9,506.2 L193.4,506.0 L194.9,505.8 L196.4,505.5 L197.9,505.3 L199.4,505.0 L200.9,504.7 L202.4,504.5 L203.9,504.2 L205.4,503.9 L206.9,503.6 L208.4,503.3 L209.9,502.9 L211.4,502.6 L212.9,502.3 L214.4,501.9 L215.9,501.5 L217.4,501.2 L218.9,500.8 L220.4,500.4 L221.9,500.0 L223.4,499.6 L224.9,499.2 L226.4,498.7 L227.9,498.3 L229.4,497.8 L230.9,497.4 L232.4,496.9 L233.9,496.4 L235.4,495.9 L236.9,495.4 L238.4,494.9 L239.9,494.4 L241.4,493.9 L242.9,493.4 L244.4,492.8 L245.9,492.3 L247.4,491.7 L248.9,491.2 L250.4,490.6 L251.9,490.0 L253.4,489.4 L254.9,488.9 L256.4,488.3 L257.9,487.7 L259.4,487.1 L260.9,486.5 L262.4,485.9 L263.9,485.3 L265.4,484.8 L266.9,484.2 L268.4,483.6 L269.9,483.1 L271.4,482.5 L272.9,482.0 L274.4,481.4 L275.9,480.9 L277.4,480.4 L278.9,479.9 L280.4,479.5 L281.9,479.0 L283.4,478.6 L284.9,478.1 L286.4,477.7 L287.9,477.3 L289.4,477.0 L290.9,476.7 L292.4,476.3 L293.9,476.1 L295.4,475.8 L296.9,475.6 L298.4,475.3 L299.9,475.2 L301.4,475.0 L302.9,474.9 L304.4,474.8 L305.9,474.7 L307.4,474.7 L308.9,474.7 L310.4,474.7 L311.9,474.8 L313.4,474.9 L314.9,475.0 L316.4,475.2 L317.9,475.4 L319.4,475.6 L320.9,475.9 L322.4,476.2 L323.9,476.5 L325.4,476.8 L326.9,477.2 L328.4,477.6 L329.9,478.0 L331.4,478.4 L332.9,478.9 L334.4,479.4 L335.9,479.9 L337.4,480.4 L338.9,480.9 L340.4,481.5 L341.9,482.0 L343.4,482.6 L344.9,483.2 L346.4,483.8 L347.9,484.4 L349.4,485.0 L350.9,485.7 L352.4,486.3 L353.9,486.9 L355.4,487.6 L356.9,488.2 L358.4,488.9 L359.9,489.5 L361.4,490.1 L362.9,490.8 L364.4,491.4 L365.9,492.1 L367.4,492.7 L368.9,493.4 L370.4,494.0 L371.9,494.7 L373.4,495.3 L374.9,495.9 L376.4,496.5 L377.9,497.2 L379.4,497.8 L380.9,498.4 L382.4,499.0 L383.9,499.6 L385.4,500.2 L386.9,500.8 L388.4,501.4 L389.9,502.0 L391.4,502.5 L392.9,503.1 L394.4,503.7 L395.9,504.2 L397.4,504.7 L398.9,505.3 L400.4,505.8 L401.9,506.3 L403.4,506.8 L404.9,507.3 L406.4,507.8 L407.9,508.2 L409.4,508.7 L410.9,509.1 L412.4,509.6 L413.9,510.0 L415.4,510.4 L416.9,510.8 L418.4,511.2 L419.9,511.6 L421.4,512.0 L422.9,512.3 L424.4,512.7 L425.9,513.0 L427.4,513.3 L428.9,513.6 L430.4,513.9 L431.9,514.2 L433.4,514.5 L434.9,514.8 L436.4,515.1 L437.9,515.3 L439.4,515.6 L440.9,515.8 L442.4,516.0 L443.9,516.3 L445.4,516.5 L446.9,516.7 L448.4,516.9 L449.9,517.1 L451.4,517.2 L452.9,517.4 L454.4,517.6 L455.9,517.7 L457.4,517.9 L458.9,518.1 L460.4,518.2 L461.9,518.4 L463.4,518.5 L464.9,518.6 L466.4,518.8 L467.9,518.9 L469.4,519.0 L470.9,519.1 L472.4,519.2 L473.9,519.3 L475.4,519.4 L476.9,519.5 L478.4,519.6 L479.9,519.7 L481.4,519.8 L482.9,519.9 L484.4,520.0 L485.9,520.1 L487.4,520.1 L488.9,520.2 L490.4,520.3 L491.9,520.3 L493.4,520.4 L494.9,520.4 L496.4,520.5 L497.9,520.5 L499.4,520.6 L500.9,520.6 L502.4,520.7 L503.9,520.7 L505.4,520.7 L506.9,520.8 L508.4,520.8 L509.9,520.8 L511.4,520.9 L512.9,520.9 L514.4,520.9 L515.9,520.9 L517.4,521.0 L518.9,521.0 L520.4,521.0 L521.9,521.0 L523.4,521.1 L524.9,521.1 L526.4,521.1 L527.9,521.1 L529.4,521.1 L530.9,521.2 L532.4,521.2 L533.9,521.2 L535.4,521.2 L536.9,521.3 L538.4,521.3 L539.9,521.3 L541.4,521.3 L542.9,521.4 L544.4,521.4 L545.9,521.4 L547.4,521.5 L548.9,521.5 L550.4,521.6 L551.9,521.6 L553.4,521.6 L554.9,521.7 L556.4,521.7 L557.9,521.8 L559.4,521.8 L560.9,521.9 L562.4,521.9 L563.9,522.0 L565.4,522.1 L566.9,522.1 L568.4,522.2 L569.9,522.2 L571.4,522.3 L572.9,522.4 L574.4,522.4 L575.9,522.5 L577.4,522.6 L578.9,522.6 L580.4,522.7 L581.9,522.8 L583.4,522.8 L584.9,522.9 L586.4,523.0 L587.9,523.0 L589.4,523.1 L590.9,523.2 L592.4,523.2 L593.9,523.3 L595.4,523.4 L596.9,523.4 L598.4,523.5 L599.9,523.6 L601.4,523.6 L602.9,523.7 L604.4,523.7 L605.9,523.8 L607.4,523.9 L608.9,523.9 L610.4,524.0 L611.9,524.0 L613.4,524.1 L614.9,524.2 L616.4,524.2 L617.9,524.3 L619.4,524.3 L620.9,524.4 L622.4,524.4 L623.9,524.5 L625.4,524.5 L626.9,524.6 L628.4,524.7 L629.9,524.7 L631.4,524.8 L632.9,524.8 L634.4,524.9 L635.9,524.9 L637.4,525.0 L638.9,525.0 L640.4,525.1 L641.9,525.2 L643.4,525.2 L644.9,525.3 L646.4,525.3 L647.9,525.4 L649.4,525.4 L650.9,525.5 L652.4,525.5 L653.9,525.6 L655.4,525.7 L656.9,525.7 L658.4,525.8 L659.9,525.8 L661.4,525.9 L662.9,525.9 L664.4,526.0 L665.9,526.0 L667.4,526.1 L668.9,526.1 L670.4,526.1 L671.9,526.2 L673.4,526.2 L674.9,526.3 L676.4,526.3 L677.9,526.3 L679.4,526.4 L680.9,526.4 L682.4,526.4 L683.9,526.5 L685.4,526.5 L686.9,526.5 L688.4,526.6 L689.9,526.6 L691.4,526.6 L692.9,526.6 L694.4,526.6 L695.9,526.7 L697.4,526.7 L698.9,526.7 L700.4,526.7 L701.9,526.7 L703.4,526.8 L704.9,526.8 L706.4,526.8 L707.9,526.8 L709.4,526.8 L710.9,526.8 L712.4,526.8 L713.9,526.8 L715.4,526.9 L716.9,526.9 L718.4,526.9 L719.9,526.9 L721.4,526.9 L722.9,526.9 L724.4,526.9 L725.9,526.9 L727.4,526.9 L728.9,526.9 L730.4,526.9 L731.9,526.9 L733.4,526.9 L734.9,526.9 L736.4,526.9 L737.9,527.0 L739.4,527.0 L740.9,527.0 L742.4,527.0 L743.9,527.0 L745.4,527.0 L746.9,527.0 L748.4,527.0 L749.9,527.0 L751.4,527.0 L752.9,527.0 L754.4,527.0 L755.9,527.0 L757.4,527.0 L758.9,527.0 L760.4,527.0 L761.9,527.0 L763.4,527.0 L764.9,527.0 L766.4,527.0 L767.9,527.0 L769.4,527.0 L770.9,527.0 L772.4,527.0 L773.9,527.0 L775.4,527.0 L776.9,527.0 L778.4,527.0 L779.9,527.0 L781.4,527.0 L782.9,527.0 L784.4,527.0 L785.9,527.0 L787.4,527.0 L788.9,527.0 L790.4,527.0 L791.9,527.0 L793.4,527.0 L794.9,527.0 L796.4,527.0 L797.9,527.0 L799.4,527.0 L800.9,527.0 L802.4,527.0 L803.9,527.0 L805.4,527.0 L806.9,527.0 L808.4,527.0 L809.9,527.0 L811.4,527.0 L812.9,527.0 L814.4,527.0 L815.9,527.0 L817.4,527.0 L818.9,527.0 L820.4,527.0 L821.9,527.0 L823.4,527.0 L824.9,527.0 L826.4,527.0 L827.9,527.0 L829.4,527.0 L830.9,527.0 L832.4,527.0 L833.9,527.0 L835.4,527.0 L836.9,527.0 L838.4,527.0 L839.9,527.0 L841.4,527.0 L842.9,527.0 L844.4,527.0 L845.9,527.0 L847.4,527.0 L848.9,527.0 L850.4,527.0 L851.9,527.0 L853.4,527.0 L854.9,527.0 L856.4,527.0 L857.9,527.0 L859.4,527.0 L860.9,527.0 L862.4,527.0 L863.9,527.0 L865.4,527.0 L866.9,527.0 L868.4,527.0 L869.9,527.0 L871.4,527.0 L872.9,527.0 L874.4,527.0 L875.9,527.0 L877.4,527.0 L878.9,527.0 L880.4,527.0" stroke="#0f72c0" stroke-width="2.9"/>
</g>
<g id="panel-b">
<line x1="1003.8" y1="6.0" x2="1003.8" y2="535.4" stroke="#1c1c1c" stroke-width="4"/>
<line x1="1001.8" y1="8.0" x2="1980.6" y2="8.0" stroke="#1c1c1c" stroke-width="4"/>
<line x1="1978.6" y1="8.0" x2="1978.6" y2="535.4" stroke="#1c1c1c" stroke-width="3.6"/>
<line x1="1001.8" y1="527.4" x2="1980.3999999999999" y2="527.4" stroke="#000" stroke-width="4.2"/>
<line x1="1003.8" y1="519.4" x2="1003.8" y2="535.4" stroke="#000" stroke-width="3.6"/>
<line x1="1052.5" y1="519.8" x2="1052.5" y2="527.4" stroke="#000" stroke-width="3"/>
<line x1="1101.3" y1="519.8" x2="1101.3" y2="527.4" stroke="#000" stroke-width="3"/>
<line x1="1150.0" y1="519.8" x2="1150.0" y2="527.4" stroke="#000" stroke-width="3"/>
<line x1="1198.8" y1="519.8" x2="1198.8" y2="527.4" stroke="#000" stroke-width="3"/>
<line x1="1247.5" y1="519.4" x2="1247.5" y2="535.4" stroke="#000" stroke-width="3.6"/>
<line x1="1296.2" y1="519.8" x2="1296.2" y2="527.4" stroke="#000" stroke-width="3"/>
<line x1="1345.0" y1="519.8" x2="1345.0" y2="527.4" stroke="#000" stroke-width="3"/>
<line x1="1393.7" y1="519.8" x2="1393.7" y2="527.4" stroke="#000" stroke-width="3"/>
<line x1="1442.5" y1="519.8" x2="1442.5" y2="527.4" stroke="#000" stroke-width="3"/>
<line x1="1491.2" y1="519.4" x2="1491.2" y2="535.4" stroke="#000" stroke-width="3.6"/>
<line x1="1539.9" y1="519.8" x2="1539.9" y2="527.4" stroke="#000" stroke-width="3"/>
<line x1="1588.7" y1="519.8" x2="1588.7" y2="527.4" stroke="#000" stroke-width="3"/>
<line x1="1637.4" y1="519.8" x2="1637.4" y2="527.4" stroke="#000" stroke-width="3"/>
<line x1="1686.2" y1="519.8" x2="1686.2" y2="527.4" stroke="#000" stroke-width="3"/>
<line x1="1734.9" y1="519.4" x2="1734.9" y2="535.4" stroke="#000" stroke-width="3.6"/>
<line x1="1783.6" y1="519.8" x2="1783.6" y2="527.4" stroke="#000" stroke-width="3"/>
<line x1="1832.4" y1="519.8" x2="1832.4" y2="527.4" stroke="#000" stroke-width="3"/>
<line x1="1881.1" y1="519.8" x2="1881.1" y2="527.4" stroke="#000" stroke-width="3"/>
<line x1="1929.9" y1="519.8" x2="1929.9" y2="527.4" stroke="#000" stroke-width="3"/>
<line x1="1978.6" y1="519.4" x2="1978.6" y2="535.4" stroke="#000" stroke-width="3.6"/>
<text class="b" x="1002.8" y="568" font-size="26" text-anchor="middle">537</text>
<text class="b" x="1246.5" y="568" font-size="26" text-anchor="middle">535</text>
<text class="b" x="1490.2" y="568" font-size="26" text-anchor="middle">533</text>
<text class="b" x="1733.9" y="568" font-size="26" text-anchor="middle">531</text>
<text class="b" x="1977.6" y="568" font-size="26" text-anchor="middle">529</text>
<text class="b" x="1491" y="611" font-size="30.1" text-anchor="middle">Binding Energy (eV)</text>
<text class="b" transform="translate(977,275.5) rotate(-90)" font-size="29.2" text-anchor="middle">Counts /s</text>
<text x="921.8" y="53" font-size="58" textLength="73.4" lengthAdjust="spacingAndGlyphs">(b)</text>
<rect x="1013.8" y="25.4" width="313.2" height="122.4" fill="#fff" stroke="#2a2a2a" stroke-width="2"/>
<line x1="1029" y1="46.0" x2="1089" y2="46.0" stroke="#12b050" stroke-width="3.4"/>
<text class="b" x="1094.8" y="53.8" font-size="27.2" xml:space="preserve">Envelope (O1s) GO</text>
<line x1="1029" y1="86.7" x2="1089" y2="86.7" stroke="#0e2760" stroke-width="3.4"/>
<text class="b" x="1094.8" y="94.5" font-size="27.2" xml:space="preserve">C-O (533.60 eV)</text>
<line x1="1029" y1="127.4" x2="1089" y2="127.4" stroke="#ffc20a" stroke-width="3.4"/>
<text class="b" x="1094.8" y="135.2" font-size="27.2" xml:space="preserve">C=O (532.75 eV)</text>
<path class="c" d="M1002.3,490.0 L1003.8,490.0 L1005.3,490.1 L1006.8,490.1 L1008.3,490.1 L1009.8,490.2 L1011.3,490.2 L1012.8,490.2 L1014.3,490.3 L1015.8,490.3 L1017.3,490.3 L1018.8,490.3 L1020.3,490.3 L1021.8,490.3 L1023.3,490.3 L1024.8,490.3 L1026.3,490.3 L1027.8,490.3 L1029.3,490.3 L1030.8,490.3 L1032.3,490.3 L1033.8,490.2 L1035.3,490.2 L1036.8,490.2 L1038.3,490.2 L1039.8,490.1 L1041.3,490.1 L1042.8,490.1 L1044.3,490.0 L1045.8,490.0 L1047.3,489.9 L1048.8,489.9 L1050.3,489.9 L1051.8,489.8 L1053.3,489.8 L1054.8,489.7 L1056.3,489.7 L1057.8,489.7 L1059.3,489.6 L1060.8,489.6 L1062.3,489.5 L1063.8,489.5 L1065.3,489.5 L1066.8,489.4 L1068.3,489.4 L1069.8,489.3 L1071.3,489.3 L1072.8,489.2 L1074.3,489.2 L1075.8,489.1 L1077.3,489.1 L1078.8,489.0 L1080.3,489.0 L1081.8,488.9 L1083.3,488.9 L1084.8,488.8 L1086.3,488.8 L1087.8,488.7 L1089.3,488.6 L1090.8,488.6 L1092.3,488.5 L1093.8,488.4 L1095.3,488.4 L1096.8,488.3 L1098.3,488.2 L1099.8,488.1 L1101.3,488.1 L1102.8,488.0 L1104.3,487.9 L1105.8,487.8 L1107.3,487.7 L1108.8,487.7 L1110.3,487.6 L1111.8,487.5 L1113.3,487.4 L1114.8,487.3 L1116.3,487.2 L1117.8,487.1 L1119.3,487.0 L1120.8,487.0 L1122.3,486.9 L1123.8,486.8 L1125.3,486.7 L1126.8,486.6 L1128.3,486.5 L1129.8,486.5 L1131.3,486.4 L1132.8,486.3 L1134.3,486.2 L1135.8,486.1 L1137.3,486.0 L1138.8,485.9 L1140.3,485.8 L1141.8,485.7 L1143.3,485.6 L1144.8,485.5 L1146.3,485.4 L1147.8,485.2 L1149.3,485.1 L1150.8,484.9 L1152.3,484.7 L1153.8,484.5 L1155.3,484.3 L1156.8,484.1 L1158.3,483.8 L1159.8,483.5 L1161.3,483.3 L1162.8,482.9 L1164.3,482.6 L1165.8,482.2 L1167.3,481.8 L1168.8,481.4 L1170.3,480.9 L1171.8,480.4 L1173.3,479.7 L1174.8,479.0 L1176.3,478.3 L1177.8,477.6 L1179.3,477.0 L1180.8,476.6 L1182.3,476.1 L1183.8,475.7 L1185.3,475.2 L1186.8,474.8 L1188.3,474.4 L1189.8,474.0 L1191.3,473.5 L1192.8,473.1 L1194.3,472.6 L1195.8,472.1 L1197.3,471.5 L1198.8,471.0 L1200.3,470.4 L1201.8,469.8 L1203.3,469.1 L1204.8,468.5 L1206.3,467.8 L1207.8,467.0 L1209.3,466.3 L1210.8,465.5 L1212.3,464.6 L1213.8,463.7 L1215.3,462.6 L1216.8,461.5 L1218.3,460.4 L1219.8,459.3 L1221.3,458.3 L1222.8,457.1 L1224.3,456.0 L1225.8,454.8 L1227.3,453.7 L1228.8,452.6 L1230.3,451.6 L1231.8,450.6 L1233.3,449.5 L1234.8,448.5 L1236.3,447.4 L1237.8,446.3 L1239.3,445.3 L1240.8,444.2 L1242.3,443.0 L1243.8,441.8 L1245.3,440.6 L1246.8,439.2 L1248.3,437.0 L1249.8,434.9 L1251.3,433.0 L1252.8,431.2 L1254.3,429.5 L1255.8,427.7 L1257.3,425.9 L1258.8,424.0 L1260.3,422.1 L1261.8,420.3 L1263.3,418.4 L1264.8,416.6 L1266.3,414.8 L1267.8,412.9 L1269.3,411.0 L1270.8,408.8 L1272.3,406.6 L1273.8,404.3 L1275.3,401.9 L1276.8,399.5 L1278.3,397.1 L1279.8,394.9 L1281.3,392.6 L1282.8,390.2 L1284.3,387.7 L1285.8,384.8 L1287.3,381.8 L1288.8,378.5 L1290.3,375.0 L1291.8,371.5 L1293.3,367.8 L1294.8,363.9 L1296.3,359.8 L1297.8,355.7 L1299.3,351.8 L1300.8,348.0 L1302.3,344.3 L1303.8,340.4 L1305.3,336.6 L1306.8,332.6 L1308.3,328.6 L1309.8,324.5 L1311.3,320.5 L1312.8,316.5 L1314.3,312.7 L1315.8,308.8 L1317.3,305.0 L1318.8,301.1 L1320.3,297.2 L1321.8,293.3 L1323.3,289.4 L1324.8,285.6 L1326.3,281.7 L1327.8,277.8 L1329.3,273.9 L1330.8,269.9 L1332.3,266.0 L1333.8,262.1 L1335.3,258.1 L1336.8,253.8 L1338.3,249.0 L1339.8,243.9 L1341.3,238.5 L1342.8,233.1 L1344.3,227.6 L1345.8,222.0 L1347.3,216.4 L1348.8,210.7 L1350.3,205.1 L1351.8,199.7 L1353.3,194.8 L1354.8,190.4 L1356.3,186.5 L1357.8,182.7 L1359.3,178.9 L1360.8,174.9 L1362.3,170.9 L1363.8,167.0 L1365.3,163.1 L1366.8,159.3 L1368.3,155.4 L1369.8,151.5 L1371.3,147.6 L1372.8,143.7 L1374.3,139.9 L1375.8,136.0 L1377.3,132.1 L1378.8,128.2 L1380.3,124.2 L1381.8,120.2 L1383.3,116.2 L1384.8,112.2 L1386.3,108.3 L1387.8,104.5 L1389.3,100.9 L1390.8,97.5 L1392.3,94.1 L1393.8,90.5 L1395.3,86.8 L1396.8,83.2 L1398.3,79.8 L1399.8,76.4 L1401.3,73.3 L1402.8,70.3 L1404.3,67.5 L1405.8,65.2 L1407.3,63.4 L1408.8,61.6 L1410.3,59.6 L1411.8,57.3 L1413.3,55.2 L1414.8,53.3 L1416.3,51.7 L1417.8,50.3 L1419.3,49.1 L1420.8,48.1 L1422.3,47.3 L1423.8,46.7 L1425.3,46.5 L1426.8,46.7 L1428.3,47.1 L1429.8,47.7 L1431.3,48.0 L1432.8,47.4 L1434.3,46.8 L1435.8,47.0 L1437.3,47.3 L1438.8,48.0 L1440.3,49.3 L1441.8,51.3 L1443.3,53.7 L1444.8,56.4 L1446.3,58.9 L1447.8,61.0 L1449.3,62.6 L1450.8,63.9 L1452.3,65.3 L1453.8,67.0 L1455.3,68.7 L1456.8,70.5 L1458.3,72.4 L1459.8,74.1 L1461.3,75.7 L1462.8,77.5 L1464.3,79.4 L1465.8,81.7 L1467.3,84.6 L1468.8,88.0 L1470.3,91.7 L1471.8,95.5 L1473.3,99.4 L1474.8,103.6 L1476.3,107.7 L1477.8,111.5 L1479.3,114.9 L1480.8,118.0 L1482.3,121.2 L1483.8,124.5 L1485.3,128.1 L1486.8,131.8 L1488.3,135.6 L1489.8,139.4 L1491.3,143.2 L1492.8,147.1 L1494.3,151.4 L1495.8,156.0 L1497.3,160.6 L1498.8,165.3 L1500.3,169.9 L1501.8,174.4 L1503.3,178.8 L1504.8,183.3 L1506.3,187.8 L1507.8,192.4 L1509.3,197.2 L1510.8,202.4 L1512.3,207.7 L1513.8,212.7 L1515.3,217.2 L1516.8,221.0 L1518.3,224.6 L1519.8,228.2 L1521.3,231.8 L1522.8,235.3 L1524.3,238.8 L1525.8,242.4 L1527.3,245.9 L1528.8,249.5 L1530.3,253.3 L1531.8,257.2 L1533.3,261.2 L1534.8,265.1 L1536.3,268.7 L1537.8,272.2 L1539.3,275.5 L1540.8,278.8 L1542.3,282.2 L1543.8,285.5 L1545.3,289.2 L1546.8,293.4 L1548.3,297.8 L1549.8,302.2 L1551.3,306.3 L1552.8,309.9 L1554.3,313.3 L1555.8,316.7 L1557.3,320.1 L1558.8,323.3 L1560.3,326.5 L1561.8,329.6 L1563.3,332.5 L1564.8,335.2 L1566.3,337.8 L1567.8,340.6 L1569.3,343.6 L1570.8,346.7 L1572.3,349.7 L1573.8,352.8 L1575.3,355.7 L1576.8,358.4 L1578.3,361.0 L1579.8,363.4 L1581.3,365.7 L1582.8,367.9 L1584.3,370.0 L1585.8,372.0 L1587.3,374.1 L1588.8,376.0 L1590.3,377.7 L1591.8,379.2 L1593.3,380.6 L1594.8,381.9 L1596.3,383.4 L1597.8,385.1 L1599.3,387.0 L1600.8,389.2 L1602.3,391.7 L1603.8,394.2 L1605.3,396.7 L1606.8,399.2 L1608.3,401.6 L1609.8,403.7 L1611.3,405.7 L1612.8,407.7 L1614.3,409.6 L1615.8,411.4 L1617.3,413.2 L1618.8,414.9 L1620.3,416.4 L1621.8,417.7 L1623.3,418.9 L1624.8,420.0 L1626.3,421.1 L1627.8,422.2 L1629.3,423.4 L1630.8,424.7 L1632.3,426.0 L1633.8,427.3 L1635.3,428.6 L1636.8,429.9 L1638.3,431.1 L1639.8,432.4 L1641.3,433.7 L1642.8,435.0 L1644.3,436.3 L1645.8,437.5 L1647.3,438.8 L1648.8,440.0 L1650.3,441.2 L1651.8,442.5 L1653.3,443.7 L1654.8,444.8 L1656.3,446.0 L1657.8,447.2 L1659.3,448.3 L1660.8,449.5 L1662.3,450.6 L1663.8,451.7 L1665.3,452.8 L1666.8,453.8 L1668.3,454.9 L1669.8,455.9 L1671.3,456.9 L1672.8,457.9 L1674.3,458.9 L1675.8,459.9 L1677.3,460.9 L1678.8,461.8 L1680.3,462.8 L1681.8,463.6 L1683.3,464.5 L1684.8,465.3 L1686.3,466.1 L1687.8,466.8 L1689.3,467.4 L1690.8,467.9 L1692.3,468.5 L1693.8,468.9 L1695.3,469.4 L1696.8,469.9 L1698.3,470.4 L1699.8,470.9 L1701.3,471.5 L1702.8,472.2 L1704.3,472.9 L1705.8,473.7 L1707.3,474.5 L1708.8,475.2 L1710.3,476.0 L1711.8,476.6 L1713.3,477.1 L1714.8,477.6 L1716.3,478.0 L1717.8,478.4 L1719.3,478.8 L1720.8,479.2 L1722.3,479.6 L1723.8,480.0 L1725.3,480.4 L1726.8,480.7 L1728.3,481.1 L1729.8,481.5 L1731.3,481.8 L1732.8,482.2 L1734.3,482.7 L1735.8,483.2 L1737.3,483.7 L1738.8,484.2 L1740.3,484.7 L1741.8,485.2 L1743.3,485.7 L1744.8,486.2 L1746.3,486.6 L1747.8,487.0 L1749.3,487.4 L1750.8,487.9 L1752.3,488.3 L1753.8,488.7 L1755.3,489.1 L1756.8,489.5 L1758.3,489.9 L1759.8,490.2 L1761.3,490.6 L1762.8,490.8 L1764.3,491.0 L1765.8,491.2 L1767.3,491.4 L1768.8,491.6 L1770.3,491.8 L1771.8,492.0 L1773.3,492.2 L1774.8,492.3 L1776.3,492.5 L1777.8,492.6 L1779.3,492.8 L1780.8,492.9 L1782.3,493.1 L1783.8,493.2 L1785.3,493.3 L1786.8,493.4 L1788.3,493.6 L1789.8,493.7 L1791.3,493.8 L1792.8,493.9 L1794.3,494.0 L1795.8,494.1 L1797.3,494.2 L1798.8,494.3 L1800.3,494.4 L1801.8,494.5 L1803.3,494.6 L1804.8,494.7 L1806.3,494.8 L1807.8,494.9 L1809.3,495.0 L1810.8,495.1 L1812.3,495.2 L1813.8,495.3 L1815.3,495.4 L1816.8,495.4 L1818.3,495.5 L1819.8,495.6 L1821.3,495.7 L1822.8,495.8 L1824.3,495.9 L1825.8,496.0 L1827.3,496.1 L1828.8,496.2 L1830.3,496.4 L1831.8,496.5 L1833.3,496.6 L1834.8,496.7 L1836.3,496.8 L1837.8,496.9 L1839.3,497.0 L1840.8,497.2 L1842.3,497.3 L1843.8,497.4 L1845.3,497.5 L1846.8,497.6 L1848.3,497.8 L1849.8,497.9 L1851.3,498.0 L1852.8,498.1 L1854.3,498.2 L1855.8,498.4 L1857.3,498.5 L1858.8,498.6 L1860.3,498.7 L1861.8,498.8 L1863.3,499.0 L1864.8,499.2 L1866.3,499.3 L1867.8,499.5 L1869.3,499.6 L1870.8,499.8 L1872.3,500.0 L1873.8,500.1 L1875.3,500.2 L1876.8,500.3 L1878.3,500.4 L1879.8,500.5 L1881.3,500.5 L1882.8,500.6 L1884.3,500.6 L1885.8,500.5 L1887.3,500.5 L1888.8,500.5 L1890.3,500.4 L1891.8,500.3 L1893.3,500.2 L1894.8,500.1 L1896.3,500.0 L1897.8,499.9 L1899.3,499.8 L1900.8,499.7 L1902.3,499.6 L1903.8,499.5 L1905.3,499.3 L1906.8,499.2 L1908.3,499.1 L1909.8,499.0 L1911.3,498.9 L1912.8,498.8 L1914.3,498.7 L1915.8,498.6 L1917.3,498.5 L1918.8,498.5 L1920.3,498.4 L1921.8,498.4 L1923.3,498.4 L1924.8,498.4 L1926.3,498.4 L1927.8,498.4 L1929.3,498.4 L1930.8,498.4 L1932.3,498.4 L1933.8,498.4 L1935.3,498.4 L1936.8,498.4 L1938.3,498.4 L1939.8,498.3 L1941.3,498.3 L1942.8,498.3 L1944.3,498.3 L1945.8,498.3 L1947.3,498.3 L1948.8,498.3 L1950.3,498.4 L1951.8,498.4 L1953.3,498.4 L1954.8,498.4 L1956.3,498.4 L1957.8,498.4 L1959.3,498.4 L1960.8,498.4 L1962.3,498.4 L1963.8,498.4 L1965.3,498.4 L1966.8,498.4 L1968.3,498.5 L1969.8,498.5 L1971.3,498.5 L1972.8,498.5 L1974.3,498.5 L1975.8,498.5 L1977.3,498.6 L1978.8,498.6" stroke="#12b050" stroke-width="2.9"/>
<path class="c" d="M1002.3,485.8 L1003.8,485.8 L1005.3,485.7 L1006.8,485.7 L1008.3,485.6 L1009.8,485.6 L1011.3,485.5 L1012.8,485.4 L1014.3,485.4 L1015.8,485.3 L1017.3,485.2 L1018.8,485.1 L1020.3,485.1 L1021.8,485.0 L1023.3,484.9 L1024.8,484.8 L1026.3,484.8 L1027.8,484.7 L1029.3,484.6 L1030.8,484.5 L1032.3,484.5 L1033.8,484.4 L1035.3,484.3 L1036.8,484.2 L1038.3,484.1 L1039.8,484.1 L1041.3,484.0 L1042.8,483.9 L1044.3,483.8 L1045.8,483.8 L1047.3,483.7 L1048.8,483.6 L1050.3,483.5 L1051.8,483.4 L1053.3,483.4 L1054.8,483.3 L1056.3,483.2 L1057.8,483.1 L1059.3,483.1 L1060.8,483.0 L1062.3,482.9 L1063.8,482.8 L1065.3,482.8 L1066.8,482.7 L1068.3,482.6 L1069.8,482.5 L1071.3,482.5 L1072.8,482.4 L1074.3,482.3 L1075.8,482.2 L1077.3,482.2 L1078.8,482.1 L1080.3,482.0 L1081.8,481.9 L1083.3,481.9 L1084.8,481.8 L1086.3,481.7 L1087.8,481.6 L1089.3,481.5 L1090.8,481.5 L1092.3,481.4 L1093.8,481.3 L1095.3,481.2 L1096.8,481.1 L1098.3,481.0 L1099.8,480.9 L1101.3,480.8 L1102.8,480.8 L1104.3,480.7 L1105.8,480.6 L1107.3,480.5 L1108.8,480.4 L1110.3,480.3 L1111.8,480.1 L1113.3,480.0 L1114.8,479.9 L1116.3,479.8 L1117.8,479.7 L1119.3,479.6 L1120.8,479.4 L1122.3,479.3 L1123.8,479.2 L1125.3,479.0 L1126.8,478.9 L1128.3,478.8 L1129.8,478.6 L1131.3,478.5 L1132.8,478.3 L1134.3,478.2 L1135.8,478.0 L1137.3,477.8 L1138.8,477.7 L1140.3,477.5 L1141.8,477.3 L1143.3,477.2 L1144.8,477.0 L1146.3,476.8 L1147.8,476.6 L1149.3,476.5 L1150.8,476.3 L1152.3,476.1 L1153.8,475.9 L1155.3,475.7 L1156.8,475.5 L1158.3,475.3 L1159.8,475.1 L1161.3,474.9 L1162.8,474.7 L1164.3,474.5 L1165.8,474.3 L1167.3,474.1 L1168.8,473.8 L1170.3,473.6 L1171.8,473.4 L1173.3,473.1 L1174.8,472.9 L1176.3,472.6 L1177.8,472.4 L1179.3,472.1 L1180.8,471.9 L1182.3,471.6 L1183.8,471.3 L1185.3,471.0 L1186.8,470.8 L1188.3,470.5 L1189.8,470.2 L1191.3,469.8 L1192.8,469.5 L1194.3,469.2 L1195.8,468.9 L1197.3,468.5 L1198.8,468.2 L1200.3,467.8 L1201.8,467.4 L1203.3,467.0 L1204.8,466.6 L1206.3,466.2 L1207.8,465.7 L1209.3,465.2 L1210.8,464.8 L1212.3,464.3 L1213.8,463.7 L1215.3,463.2 L1216.8,462.6 L1218.3,462.0 L1219.8,461.4 L1221.3,460.8 L1222.8,460.1 L1224.3,459.4 L1225.8,458.7 L1227.3,457.9 L1228.8,457.1 L1230.3,456.2 L1231.8,455.4 L1233.3,454.4 L1234.8,453.4 L1236.3,452.3 L1237.8,451.2 L1239.3,450.1 L1240.8,449.0 L1242.3,447.8 L1243.8,446.6 L1245.3,445.4 L1246.8,444.2 L1248.3,443.0 L1249.8,441.8 L1251.3,440.5 L1252.8,439.2 L1254.3,437.9 L1255.8,436.5 L1257.3,435.0 L1258.8,433.6 L1260.3,432.1 L1261.8,430.5 L1263.3,428.9 L1264.8,427.4 L1266.3,425.8 L1267.8,424.2 L1269.3,422.5 L1270.8,420.7 L1272.3,418.8 L1273.8,416.9 L1275.3,414.9 L1276.8,412.9 L1278.3,410.7 L1279.8,408.4 L1281.3,405.9 L1282.8,403.4 L1284.3,400.8 L1285.8,398.1 L1287.3,395.4 L1288.8,392.5 L1290.3,389.7 L1291.8,386.7 L1293.3,383.7 L1294.8,380.7 L1296.3,377.6 L1297.8,374.5 L1299.3,371.3 L1300.8,368.1 L1302.3,364.7 L1303.8,361.3 L1305.3,357.9 L1306.8,354.3 L1308.3,350.7 L1309.8,347.1 L1311.3,343.4 L1312.8,339.6 L1314.3,335.8 L1315.8,331.9 L1317.3,327.9 L1318.8,323.9 L1320.3,319.8 L1321.8,315.7 L1323.3,311.5 L1324.8,307.3 L1326.3,303.0 L1327.8,298.7 L1329.3,294.3 L1330.8,289.9 L1332.3,285.5 L1333.8,281.0 L1335.3,276.5 L1336.8,271.9 L1338.3,267.3 L1339.8,262.7 L1341.3,258.1 L1342.8,253.4 L1344.3,248.7 L1345.8,244.0 L1347.3,239.3 L1348.8,234.6 L1350.3,229.9 L1351.8,225.2 L1353.3,220.5 L1354.8,215.8 L1356.3,211.1 L1357.8,206.5 L1359.3,201.8 L1360.8,197.2 L1362.3,192.6 L1363.8,188.1 L1365.3,183.6 L1366.8,179.1 L1368.3,174.7 L1369.8,170.4 L1371.3,166.1 L1372.8,161.9 L1374.3,157.8 L1375.8,153.7 L1377.3,149.8 L1378.8,145.9 L1380.3,142.1 L1381.8,138.5 L1383.3,134.9 L1384.8,131.5 L1386.3,128.2 L1387.8,125.0 L1389.3,121.9 L1390.8,119.0 L1392.3,116.2 L1393.8,113.6 L1395.3,111.1 L1396.8,108.8 L1398.3,106.7 L1399.8,104.7 L1401.3,102.9 L1402.8,101.3 L1404.3,99.8 L1405.8,98.6 L1407.3,97.5 L1408.8,96.6 L1410.3,95.9 L1411.8,95.4 L1413.3,95.1 L1414.8,95.0 L1416.3,95.1 L1417.8,95.4 L1419.3,95.8 L1420.8,96.5 L1422.3,97.3 L1423.8,98.4 L1425.3,99.6 L1426.8,101.0 L1428.3,102.6 L1429.8,104.3 L1431.3,106.3 L1432.8,108.4 L1434.3,110.7 L1435.8,113.1 L1437.3,115.7 L1438.8,118.4 L1440.3,121.3 L1441.8,124.4 L1443.3,127.5 L1444.8,130.8 L1446.3,134.3 L1447.8,137.8 L1449.3,141.5 L1450.8,145.2 L1452.3,149.1 L1453.8,153.1 L1455.3,157.1 L1456.8,161.3 L1458.3,165.5 L1459.8,169.8 L1461.3,174.2 L1462.8,178.6 L1464.3,183.1 L1465.8,187.6 L1467.3,192.2 L1468.8,196.9 L1470.3,201.5 L1471.8,206.2 L1473.3,210.9 L1474.8,215.7 L1476.3,220.5 L1477.8,225.2 L1479.3,230.0 L1480.8,234.8 L1482.3,239.6 L1483.8,244.4 L1485.3,249.2 L1486.8,254.0 L1488.3,258.7 L1489.8,263.5 L1491.3,268.2 L1492.8,272.9 L1494.3,277.5 L1495.8,282.2 L1497.3,286.8 L1498.8,291.4 L1500.3,295.9 L1501.8,300.4 L1503.3,304.8 L1504.8,309.2 L1506.3,313.6 L1507.8,317.9 L1509.3,322.2 L1510.8,326.4 L1512.3,330.5 L1513.8,334.6 L1515.3,338.6 L1516.8,342.6 L1518.3,346.5 L1519.8,350.4 L1521.3,354.2 L1522.8,357.9 L1524.3,361.6 L1525.8,365.2 L1527.3,368.8 L1528.8,372.2 L1530.3,375.7 L1531.8,379.0 L1533.3,382.3 L1534.8,385.5 L1536.3,388.6 L1537.8,391.7 L1539.3,394.7 L1540.8,397.7 L1542.3,400.6 L1543.8,403.4 L1545.3,406.1 L1546.8,408.8 L1548.3,411.4 L1549.8,414.0 L1551.3,416.5 L1552.8,418.9 L1554.3,421.3 L1555.8,423.6 L1557.3,425.8 L1558.8,428.0 L1560.3,430.2 L1561.8,432.2 L1563.3,434.2 L1564.8,436.2 L1566.3,438.1 L1567.8,439.9 L1569.3,441.7 L1570.8,443.5 L1572.3,445.1 L1573.8,446.8 L1575.3,448.4 L1576.8,449.9 L1578.3,451.4 L1579.8,452.8 L1581.3,454.2 L1582.8,455.6 L1584.3,456.9 L1585.8,458.1 L1587.3,459.3 L1588.8,460.5 L1590.3,461.7 L1591.8,462.8 L1593.3,463.8 L1594.8,464.9 L1596.3,465.9 L1597.8,466.8 L1599.3,467.7 L1600.8,468.6 L1602.3,469.5 L1603.8,470.3 L1605.3,471.1 L1606.8,471.9 L1608.3,472.6 L1609.8,473.4 L1611.3,474.0 L1612.8,474.7 L1614.3,475.4 L1615.8,476.0 L1617.3,476.6 L1618.8,477.2 L1620.3,477.7 L1621.8,478.3 L1623.3,478.8 L1624.8,479.3 L1626.3,479.8 L1627.8,480.3 L1629.3,480.7 L1630.8,481.2 L1632.3,481.6 L1633.8,482.0 L1635.3,482.4 L1636.8,482.8 L1638.3,483.2 L1639.8,483.5 L1641.3,483.9 L1642.8,484.2 L1644.3,484.5 L1645.8,484.8 L1647.3,485.1 L1648.8,485.4 L1650.3,485.7 L1651.8,485.9 L1653.3,486.2 L1654.8,486.4 L1656.3,486.7 L1657.8,486.9 L1659.3,487.1 L1660.8,487.3 L1662.3,487.5 L1663.8,487.7 L1665.3,487.9 L1666.8,488.1 L1668.3,488.2 L1669.8,488.4 L1671.3,488.6 L1672.8,488.7 L1674.3,488.9 L1675.8,489.0 L1677.3,489.2 L1678.8,489.3 L1680.3,489.5 L1681.8,489.6 L1683.3,489.8 L1684.8,489.9 L1686.3,490.1 L1687.8,490.2 L1689.3,490.4 L1690.8,490.5 L1692.3,490.7 L1693.8,490.8 L1695.3,490.9 L1696.8,491.1 L1698.3,491.2 L1699.8,491.4 L1701.3,491.5 L1702.8,491.6 L1704.3,491.8 L1705.8,491.9 L1707.3,492.0 L1708.8,492.1 L1710.3,492.3 L1711.8,492.4 L1713.3,492.5 L1714.8,492.6 L1716.3,492.8 L1717.8,492.9 L1719.3,493.0 L1720.8,493.1 L1722.3,493.2 L1723.8,493.3 L1725.3,493.4 L1726.8,493.5 L1728.3,493.6 L1729.8,493.7 L1731.3,493.8 L1732.8,494.0 L1734.3,494.1 L1735.8,494.2 L1737.3,494.3 L1738.8,494.4 L1740.3,494.5 L1741.8,494.6 L1743.3,494.7 L1744.8,494.8 L1746.3,494.9 L1747.8,495.0 L1749.3,495.1 L1750.8,495.2 L1752.3,495.3 L1753.8,495.4 L1755.3,495.5 L1756.8,495.5 L1758.3,495.6 L1759.8,495.7 L1761.3,495.8 L1762.8,495.9 L1764.3,496.0 L1765.8,496.1 L1767.3,496.1 L1768.8,496.2 L1770.3,496.3 L1771.8,496.4 L1773.3,496.5 L1774.8,496.5 L1776.3,496.6 L1777.8,496.7 L1779.3,496.7 L1780.8,496.8 L1782.3,496.9 L1783.8,496.9 L1785.3,497.0 L1786.8,497.0 L1788.3,497.1 L1789.8,497.2 L1791.3,497.2 L1792.8,497.3 L1794.3,497.3 L1795.8,497.4 L1797.3,497.4 L1798.8,497.5 L1800.3,497.5 L1801.8,497.6 L1803.3,497.6 L1804.8,497.7 L1806.3,497.7 L1807.8,497.8 L1809.3,497.8 L1810.8,497.8 L1812.3,497.9 L1813.8,497.9 L1815.3,498.0 L1816.8,498.0 L1818.3,498.1 L1819.8,498.1 L1821.3,498.1 L1822.8,498.2 L1824.3,498.2 L1825.8,498.2 L1827.3,498.3 L1828.8,498.3 L1830.3,498.4 L1831.8,498.4 L1833.3,498.4 L1834.8,498.5 L1836.3,498.5 L1837.8,498.5 L1839.3,498.6 L1840.8,498.6 L1842.3,498.6 L1843.8,498.7 L1845.3,498.7 L1846.8,498.7 L1848.3,498.7 L1849.8,498.8 L1851.3,498.8 L1852.8,498.8 L1854.3,498.9 L1855.8,498.9 L1857.3,498.9 L1858.8,498.9 L1860.3,499.0 L1861.8,499.0 L1863.3,499.0 L1864.8,499.1 L1866.3,499.1 L1867.8,499.1 L1869.3,499.1 L1870.8,499.2 L1872.3,499.2 L1873.8,499.2 L1875.3,499.2 L1876.8,499.2 L1878.3,499.3 L1879.8,499.3 L1881.3,499.3 L1882.8,499.3 L1884.3,499.4 L1885.8,499.4 L1887.3,499.4 L1888.8,499.4 L1890.3,499.5 L1891.8,499.5 L1893.3,499.5 L1894.8,499.5 L1896.3,499.5 L1897.8,499.6 L1899.3,499.6 L1900.8,499.6 L1902.3,499.6 L1903.8,499.6 L1905.3,499.6 L1906.8,499.7 L1908.3,499.7 L1909.8,499.7 L1911.3,499.7 L1912.8,499.7 L1914.3,499.8 L1915.8,499.8 L1917.3,499.8 L1918.8,499.8 L1920.3,499.8 L1921.8,499.8 L1923.3,499.9 L1924.8,499.9 L1926.3,499.9 L1927.8,499.9 L1929.3,499.9 L1930.8,499.9 L1932.3,499.9 L1933.8,500.0 L1935.3,500.0 L1936.8,500.0 L1938.3,500.0 L1939.8,500.0 L1941.3,500.0 L1942.8,500.0 L1944.3,500.1 L1945.8,500.1 L1947.3,500.1 L1948.8,500.1 L1950.3,500.1 L1951.8,500.1 L1953.3,500.1 L1954.8,500.1 L1956.3,500.2 L1957.8,500.2 L1959.3,500.2 L1960.8,500.2 L1962.3,500.2 L1963.8,500.2 L1965.3,500.2 L1966.8,500.2 L1968.3,500.2 L1969.8,500.3 L1971.3,500.3 L1972.8,500.3 L1974.3,500.3 L1975.8,500.3 L1977.3,500.3 L1978.8,500.3" stroke="#0e2760" stroke-width="2.9"/>
<path class="c" d="M1002.3,489.1 L1003.8,489.1 L1005.3,489.1 L1006.8,489.1 L1008.3,489.1 L1009.8,489.1 L1011.3,489.1 L1012.8,489.1 L1014.3,489.1 L1015.8,489.1 L1017.3,489.1 L1018.8,489.1 L1020.3,489.1 L1021.8,489.1 L1023.3,489.1 L1024.8,489.1 L1026.3,489.1 L1027.8,489.1 L1029.3,489.1 L1030.8,489.1 L1032.3,489.2 L1033.8,489.2 L1035.3,489.2 L1036.8,489.2 L1038.3,489.2 L1039.8,489.2 L1041.3,489.2 L1042.8,489.2 L1044.3,489.2 L1045.8,489.2 L1047.3,489.2 L1048.8,489.2 L1050.3,489.2 L1051.8,489.2 L1053.3,489.2 L1054.8,489.2 L1056.3,489.2 L1057.8,489.2 L1059.3,489.2 L1060.8,489.2 L1062.3,489.2 L1063.8,489.2 L1065.3,489.2 L1066.8,489.1 L1068.3,489.1 L1069.8,489.1 L1071.3,489.1 L1072.8,489.1 L1074.3,489.1 L1075.8,489.1 L1077.3,489.1 L1078.8,489.1 L1080.3,489.1 L1081.8,489.1 L1083.3,489.1 L1084.8,489.1 L1086.3,489.1 L1087.8,489.1 L1089.3,489.1 L1090.8,489.0 L1092.3,489.0 L1093.8,489.0 L1095.3,489.0 L1096.8,489.0 L1098.3,489.0 L1099.8,489.0 L1101.3,489.0 L1102.8,489.0 L1104.3,488.9 L1105.8,488.9 L1107.3,488.9 L1108.8,488.9 L1110.3,488.9 L1111.8,488.9 L1113.3,488.8 L1114.8,488.8 L1116.3,488.8 L1117.8,488.8 L1119.3,488.8 L1120.8,488.8 L1122.3,488.7 L1123.8,488.7 L1125.3,488.7 L1126.8,488.7 L1128.3,488.6 L1129.8,488.6 L1131.3,488.6 L1132.8,488.6 L1134.3,488.5 L1135.8,488.5 L1137.3,488.5 L1138.8,488.5 L1140.3,488.4 L1141.8,488.4 L1143.3,488.4 L1144.8,488.3 L1146.3,488.3 L1147.8,488.3 L1149.3,488.2 L1150.8,488.2 L1152.3,488.2 L1153.8,488.1 L1155.3,488.1 L1156.8,488.1 L1158.3,488.0 L1159.8,488.0 L1161.3,488.0 L1162.8,487.9 L1164.3,487.9 L1165.8,487.9 L1167.3,487.8 L1168.8,487.8 L1170.3,487.8 L1171.8,487.7 L1173.3,487.7 L1174.8,487.6 L1176.3,487.6 L1177.8,487.6 L1179.3,487.5 L1180.8,487.5 L1182.3,487.5 L1183.8,487.4 L1185.3,487.4 L1186.8,487.3 L1188.3,487.3 L1189.8,487.3 L1191.3,487.2 L1192.8,487.2 L1194.3,487.1 L1195.8,487.1 L1197.3,487.1 L1198.8,487.0 L1200.3,487.0 L1201.8,486.9 L1203.3,486.9 L1204.8,486.9 L1206.3,486.8 L1207.8,486.8 L1209.3,486.7 L1210.8,486.7 L1212.3,486.6 L1213.8,486.6 L1215.3,486.5 L1216.8,486.5 L1218.3,486.4 L1219.8,486.4 L1221.3,486.3 L1222.8,486.3 L1224.3,486.3 L1225.8,486.2 L1227.3,486.2 L1228.8,486.1 L1230.3,486.1 L1231.8,486.0 L1233.3,486.0 L1234.8,485.9 L1236.3,485.8 L1237.8,485.8 L1239.3,485.7 L1240.8,485.7 L1242.3,485.6 L1243.8,485.6 L1245.3,485.5 L1246.8,485.5 L1248.3,485.4 L1249.8,485.4 L1251.3,485.3 L1252.8,485.3 L1254.3,485.2 L1255.8,485.2 L1257.3,485.1 L1258.8,485.1 L1260.3,485.0 L1261.8,485.0 L1263.3,484.9 L1264.8,484.9 L1266.3,484.8 L1267.8,484.7 L1269.3,484.7 L1270.8,484.6 L1272.3,484.6 L1273.8,484.5 L1275.3,484.4 L1276.8,484.4 L1278.3,484.3 L1279.8,484.2 L1281.3,484.2 L1282.8,484.1 L1284.3,484.0 L1285.8,483.9 L1287.3,483.8 L1288.8,483.8 L1290.3,483.7 L1291.8,483.6 L1293.3,483.5 L1294.8,483.4 L1296.3,483.3 L1297.8,483.2 L1299.3,483.1 L1300.8,482.9 L1302.3,482.8 L1303.8,482.7 L1305.3,482.6 L1306.8,482.5 L1308.3,482.3 L1309.8,482.2 L1311.3,482.0 L1312.8,481.9 L1314.3,481.7 L1315.8,481.6 L1317.3,481.4 L1318.8,481.2 L1320.3,481.1 L1321.8,480.9 L1323.3,480.7 L1324.8,480.5 L1326.3,480.3 L1327.8,480.1 L1329.3,479.9 L1330.8,479.7 L1332.3,479.5 L1333.8,479.2 L1335.3,479.0 L1336.8,478.7 L1338.3,478.5 L1339.8,478.2 L1341.3,478.0 L1342.8,477.7 L1344.3,477.4 L1345.8,477.1 L1347.3,476.8 L1348.8,476.5 L1350.3,476.2 L1351.8,475.8 L1353.3,475.5 L1354.8,475.1 L1356.3,474.7 L1357.8,474.3 L1359.3,473.9 L1360.8,473.4 L1362.3,473.0 L1363.8,472.5 L1365.3,472.0 L1366.8,471.5 L1368.3,471.0 L1369.8,470.5 L1371.3,469.9 L1372.8,469.3 L1374.3,468.7 L1375.8,468.1 L1377.3,467.5 L1378.8,466.8 L1380.3,466.2 L1381.8,465.5 L1383.3,464.8 L1384.8,464.1 L1386.3,463.3 L1387.8,462.6 L1389.3,461.8 L1390.8,461.0 L1392.3,460.2 L1393.8,459.4 L1395.3,458.5 L1396.8,457.7 L1398.3,456.8 L1399.8,455.9 L1401.3,455.0 L1402.8,454.1 L1404.3,453.2 L1405.8,452.2 L1407.3,451.2 L1408.8,450.3 L1410.3,449.2 L1411.8,448.2 L1413.3,447.2 L1414.8,446.1 L1416.3,445.1 L1417.8,444.0 L1419.3,442.9 L1420.8,441.8 L1422.3,440.6 L1423.8,439.5 L1425.3,438.3 L1426.8,437.2 L1428.3,436.0 L1429.8,434.8 L1431.3,433.6 L1432.8,432.4 L1434.3,431.1 L1435.8,429.9 L1437.3,428.6 L1438.8,427.4 L1440.3,426.1 L1441.8,424.8 L1443.3,423.5 L1444.8,422.2 L1446.3,420.9 L1447.8,419.6 L1449.3,418.3 L1450.8,417.0 L1452.3,415.7 L1453.8,414.4 L1455.3,413.1 L1456.8,411.8 L1458.3,410.5 L1459.8,409.2 L1461.3,407.9 L1462.8,406.6 L1464.3,405.3 L1465.8,404.0 L1467.3,402.8 L1468.8,401.5 L1470.3,400.3 L1471.8,399.0 L1473.3,397.8 L1474.8,396.6 L1476.3,395.4 L1477.8,394.3 L1479.3,393.1 L1480.8,392.0 L1482.3,390.9 L1483.8,389.9 L1485.3,388.8 L1486.8,387.8 L1488.3,386.8 L1489.8,385.9 L1491.3,385.0 L1492.8,384.1 L1494.3,383.2 L1495.8,382.4 L1497.3,381.6 L1498.8,380.9 L1500.3,380.2 L1501.8,379.5 L1503.3,378.9 L1504.8,378.3 L1506.3,377.8 L1507.8,377.2 L1509.3,376.8 L1510.8,376.4 L1512.3,376.0 L1513.8,375.7 L1515.3,375.4 L1516.8,375.2 L1518.3,375.0 L1519.8,374.9 L1521.3,374.8 L1522.8,374.8 L1524.3,374.9 L1525.8,375.0 L1527.3,375.1 L1528.8,375.3 L1530.3,375.5 L1531.8,375.8 L1533.3,376.2 L1534.8,376.5 L1536.3,377.0 L1537.8,377.5 L1539.3,378.0 L1540.8,378.6 L1542.3,379.2 L1543.8,379.9 L1545.3,380.6 L1546.8,381.3 L1548.3,382.1 L1549.8,383.0 L1551.3,383.8 L1552.8,384.7 L1554.3,385.7 L1555.8,386.6 L1557.3,387.6 L1558.8,388.7 L1560.3,389.7 L1561.8,390.8 L1563.3,391.9 L1564.8,393.0 L1566.3,394.1 L1567.8,395.3 L1569.3,396.4 L1570.8,397.6 L1572.3,398.8 L1573.8,400.0 L1575.3,401.2 L1576.8,402.4 L1578.3,403.6 L1579.8,404.9 L1581.3,406.1 L1582.8,407.4 L1584.3,408.6 L1585.8,409.9 L1587.3,411.2 L1588.8,412.5 L1590.3,413.7 L1591.8,415.0 L1593.3,416.3 L1594.8,417.6 L1596.3,418.9 L1597.8,420.2 L1599.3,421.5 L1600.8,422.8 L1602.3,424.1 L1603.8,425.4 L1605.3,426.6 L1606.8,427.9 L1608.3,429.1 L1609.8,430.4 L1611.3,431.6 L1612.8,432.8 L1614.3,434.1 L1615.8,435.3 L1617.3,436.5 L1618.8,437.7 L1620.3,438.9 L1621.8,440.1 L1623.3,441.3 L1624.8,442.5 L1626.3,443.7 L1627.8,444.9 L1629.3,446.1 L1630.8,447.2 L1632.3,448.4 L1633.8,449.5 L1635.3,450.6 L1636.8,451.8 L1638.3,452.9 L1639.8,453.9 L1641.3,455.0 L1642.8,456.1 L1644.3,457.1 L1645.8,458.1 L1647.3,459.1 L1648.8,460.1 L1650.3,461.1 L1651.8,462.0 L1653.3,463.0 L1654.8,463.9 L1656.3,464.8 L1657.8,465.7 L1659.3,466.6 L1660.8,467.5 L1662.3,468.4 L1663.8,469.2 L1665.3,470.1 L1666.8,471.0 L1668.3,471.8 L1669.8,472.6 L1671.3,473.4 L1672.8,474.3 L1674.3,475.1 L1675.8,475.8 L1677.3,476.6 L1678.8,477.3 L1680.3,478.1 L1681.8,478.8 L1683.3,479.5 L1684.8,480.2 L1686.3,480.8 L1687.8,481.4 L1689.3,482.0 L1690.8,482.6 L1692.3,483.2 L1693.8,483.7 L1695.3,484.3 L1696.8,484.8 L1698.3,485.3 L1699.8,485.8 L1701.3,486.2 L1702.8,486.7 L1704.3,487.1 L1705.8,487.6 L1707.3,488.0 L1708.8,488.4 L1710.3,488.8 L1711.8,489.2 L1713.3,489.5 L1714.8,489.9 L1716.3,490.2 L1717.8,490.5 L1719.3,490.8 L1720.8,491.1 L1722.3,491.4 L1723.8,491.7 L1725.3,491.9 L1726.8,492.1 L1728.3,492.3 L1729.8,492.5 L1731.3,492.7 L1732.8,492.9 L1734.3,493.1 L1735.8,493.2 L1737.3,493.4 L1738.8,493.5 L1740.3,493.7 L1741.8,493.8 L1743.3,494.0 L1744.8,494.1 L1746.3,494.2 L1747.8,494.3 L1749.3,494.5 L1750.8,494.6 L1752.3,494.7 L1753.8,494.8 L1755.3,494.9 L1756.8,495.0 L1758.3,495.2 L1759.8,495.3 L1761.3,495.4 L1762.8,495.5 L1764.3,495.6 L1765.8,495.7 L1767.3,495.7 L1768.8,495.8 L1770.3,495.9 L1771.8,496.0 L1773.3,496.1 L1774.8,496.2 L1776.3,496.3 L1777.8,496.4 L1779.3,496.4 L1780.8,496.5 L1782.3,496.6 L1783.8,496.7 L1785.3,496.7 L1786.8,496.8 L1788.3,496.9 L1789.8,496.9 L1791.3,497.0 L1792.8,497.1 L1794.3,497.1 L1795.8,497.2 L1797.3,497.2 L1798.8,497.3 L1800.3,497.4 L1801.8,497.4 L1803.3,497.5 L1804.8,497.5 L1806.3,497.6 L1807.8,497.6 L1809.3,497.7 L1810.8,497.7 L1812.3,497.8 L1813.8,497.8 L1815.3,497.9 L1816.8,497.9 L1818.3,498.0 L1819.8,498.0 L1821.3,498.1 L1822.8,498.1 L1824.3,498.2 L1825.8,498.2 L1827.3,498.2 L1828.8,498.3 L1830.3,498.3 L1831.8,498.4 L1833.3,498.4 L1834.8,498.4 L1836.3,498.5 L1837.8,498.5 L1839.3,498.6 L1840.8,498.6 L1842.3,498.6 L1843.8,498.7 L1845.3,498.7 L1846.8,498.7 L1848.3,498.8 L1849.8,498.8 L1851.3,498.8 L1852.8,498.8 L1854.3,498.9 L1855.8,498.9 L1857.3,498.9 L1858.8,499.0 L1860.3,499.0 L1861.8,499.0 L1863.3,499.0 L1864.8,499.1 L1866.3,499.1 L1867.8,499.1 L1869.3,499.1 L1870.8,499.1 L1872.3,499.2 L1873.8,499.2 L1875.3,499.2 L1876.8,499.2 L1878.3,499.3 L1879.8,499.3 L1881.3,499.3 L1882.8,499.3 L1884.3,499.3 L1885.8,499.4 L1887.3,499.4 L1888.8,499.4 L1890.3,499.4 L1891.8,499.4 L1893.3,499.4 L1894.8,499.5 L1896.3,499.5 L1897.8,499.5 L1899.3,499.5 L1900.8,499.5 L1902.3,499.5 L1903.8,499.6 L1905.3,499.6 L1906.8,499.6 L1908.3,499.6 L1909.8,499.6 L1911.3,499.6 L1912.8,499.7 L1914.3,499.7 L1915.8,499.7 L1917.3,499.7 L1918.8,499.7 L1920.3,499.7 L1921.8,499.7 L1923.3,499.7 L1924.8,499.8 L1926.3,499.8 L1927.8,499.8 L1929.3,499.8 L1930.8,499.8 L1932.3,499.8 L1933.8,499.8 L1935.3,499.8 L1936.8,499.8 L1938.3,499.8 L1939.8,499.9 L1941.3,499.9 L1942.8,499.9 L1944.3,499.9 L1945.8,499.9 L1947.3,499.9 L1948.8,499.9 L1950.3,499.9 L1951.8,499.9 L1953.3,499.9 L1954.8,499.9 L1956.3,499.9 L1957.8,499.9 L1959.3,500.0 L1960.8,500.0 L1962.3,500.0 L1963.8,500.0 L1965.3,500.0 L1966.8,500.0 L1968.3,500.0 L1969.8,500.0 L1971.3,500.0 L1972.8,500.0 L1974.3,500.0 L1975.8,500.0 L1977.3,500.0 L1978.8,500.0" stroke="#ffc20a" stroke-width="3.0"/>
</g>
</g>
</svg></body></html>
